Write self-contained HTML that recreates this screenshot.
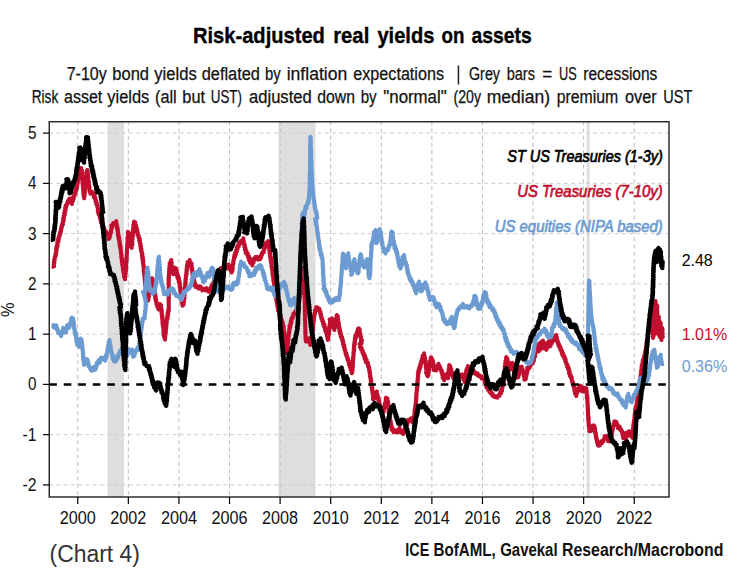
<!DOCTYPE html><html><head><meta charset="utf-8"><title>Risk-adjusted real yields on assets</title><style>html,body{margin:0;padding:0;background:#fff}body{width:744px;height:575px;position:relative;overflow:hidden;font-family:"Liberation Sans",sans-serif}</style></head><body><svg width="744" height="575" viewBox="0 0 744 575" style="position:absolute;left:0;top:0;font-family:'Liberation Sans',sans-serif">
<rect width="744" height="575" fill="#fff"/>
<rect x="107.5" y="121.75" width="16.5" height="375.25" fill="#dedede"/>
<rect x="278.5" y="121.75" width="37.0" height="375.25" fill="#dedede"/>
<rect x="586.7" y="121.75" width="2.8999999999999773" height="375.25" fill="#dedede"/>
<g stroke="#bcbcbc" stroke-width="1" stroke-dasharray="4.1 3.15" fill="none"><line x1="77.75" y1="121.15" x2="77.75" y2="497.0"/><line x1="128.34" y1="121.15" x2="128.34" y2="497.0"/><line x1="178.93" y1="121.15" x2="178.93" y2="497.0"/><line x1="229.52" y1="121.15" x2="229.52" y2="497.0"/><line x1="280.11" y1="121.15" x2="280.11" y2="497.0"/><line x1="330.70" y1="121.15" x2="330.70" y2="497.0"/><line x1="381.29" y1="121.15" x2="381.29" y2="497.0"/><line x1="431.88" y1="121.15" x2="431.88" y2="497.0"/><line x1="482.47" y1="121.15" x2="482.47" y2="497.0"/><line x1="533.06" y1="121.15" x2="533.06" y2="497.0"/><line x1="583.65" y1="121.15" x2="583.65" y2="497.0"/><line x1="634.24" y1="121.15" x2="634.24" y2="497.0"/></g>
<g stroke="#cdcdcd" stroke-width="1" stroke-dasharray="3.9 3.35" fill="none"><line x1="49.25" y1="484.92" x2="669.0" y2="484.92"/><line x1="49.25" y1="434.66" x2="669.0" y2="434.66"/><line x1="49.25" y1="334.14" x2="669.0" y2="334.14"/><line x1="49.25" y1="283.88" x2="669.0" y2="283.88"/><line x1="49.25" y1="233.62" x2="669.0" y2="233.62"/><line x1="49.25" y1="183.36" x2="669.0" y2="183.36"/><line x1="49.25" y1="133.10" x2="669.0" y2="133.10"/></g>
<clipPath id="c"><rect x="49.25" y="121.75" width="619.75" height="375.25"/></clipPath>
<g clip-path="url(#c)">
<polyline points="53.84,268.34 53.40,267.06 54.17,265.85 53.71,264.57 54.33,263.37 53.85,262.04 54.71,260.88 54.08,259.52 54.92,258.39 54.78,256.89 55.89,255.69 55.33,254.11 56.32,253.08 55.88,251.80 56.61,250.72 56.03,249.42 56.94,248.38 56.35,247.08 57.57,246.08 57.07,244.80 57.67,243.70 57.24,242.40 58.60,241.25 57.97,239.63 59.01,238.43 58.58,237.09 59.59,236.19 59.33,234.90 60.44,234.02 59.88,232.64 60.96,231.73 60.63,230.36 61.45,229.23 61.05,227.85 62.04,226.78 61.75,225.48 62.95,224.63 62.28,223.26 63.33,222.16 62.88,220.78 63.92,219.68 63.10,218.24 64.07,217.12 63.75,215.77 64.75,214.66 64.08,213.25 65.30,212.18 64.64,210.76 65.77,209.60 65.08,208.08 66.11,206.90 65.65,205.42 66.92,205.11 66.97,203.05 68.64,202.43 67.99,200.88 69.35,200.28 69.19,198.79 69.83,198.43 70.93,199.51 70.57,200.88 71.48,202.00 71.95,204.08 71.84,202.38 73.03,201.20 72.60,199.63 73.81,198.48 73.17,196.75 74.71,195.71 74.20,193.98 75.63,193.26 75.27,191.83 76.22,190.87 75.79,189.49 77.06,188.44 76.33,187.00 77.32,185.89 76.95,184.62 77.76,183.56 77.07,182.24 78.26,181.24 77.60,179.92 78.77,178.85 78.21,177.44 79.14,176.33 78.45,174.89 79.66,173.83 79.13,172.43 80.05,171.31 79.40,169.70 81.32,169.41 81.20,167.96 80.77,169.42 81.99,170.57 81.24,172.09 82.34,173.30 81.74,174.69 82.48,175.98 82.01,177.35 82.65,178.65 82.34,180.01 82.97,181.31 82.41,182.69 83.00,183.99 82.62,185.36 83.28,186.65 82.87,187.99 83.46,189.24 83.04,190.58 83.76,191.82 83.24,193.17 83.94,194.42 83.62,195.75 84.10,197.02 84.22,198.36 83.82,196.90 84.76,195.60 84.09,194.12 85.07,192.83 84.42,191.34 85.22,190.02 84.73,188.67 85.55,187.44 85.16,186.10 85.60,184.83 85.40,183.50 86.02,182.25 85.56,180.90 86.07,179.64 85.65,178.29 86.44,176.97 86.15,175.53 86.71,174.19 86.34,172.74 87.05,171.41 87.28,169.95 86.76,171.24 87.75,172.27 87.30,173.55 88.15,174.60 87.84,175.85 88.39,177.05 87.97,178.36 88.58,179.56 88.31,180.85 89.04,182.04 88.45,183.36 89.09,184.56 88.64,185.88 89.59,187.02 89.16,188.35 89.68,189.56 89.45,190.86 90.23,192.03 90.29,193.79 90.82,191.68 92.11,191.85 93.61,192.90 93.21,194.55 94.76,195.53 93.77,197.21 95.42,197.85 95.01,199.26 96.17,200.29 95.61,201.78 96.81,202.79 96.28,204.30 97.65,205.39 97.28,207.03 98.35,208.24 97.70,209.75 99.26,210.67 98.64,212.17 98.52,213.82 97.94,211.80 99.45,212.84 98.64,214.63 100.11,215.69 99.75,217.34 100.81,218.53 100.38,220.18 101.58,221.09 101.08,222.50 102.66,223.31 101.85,224.80 103.00,225.72 102.43,227.30 104.20,228.10 103.34,229.77 104.91,230.25 104.66,232.17 106.31,231.88 107.38,233.40 108.41,234.39 107.82,235.75 108.76,236.77 108.48,238.06 108.52,239.05 109.67,237.86 109.25,236.29 110.35,235.08 109.77,233.47 111.24,232.36 110.79,230.79 111.52,229.63 111.18,228.27 112.32,227.19 111.23,225.37 113.53,224.60 113.21,222.97 114.95,223.21 116.26,221.17 115.38,222.72 116.71,223.67 116.18,225.08 117.30,226.09 116.71,227.39 117.80,228.41 117.20,229.71 118.11,230.75 117.65,232.04 118.32,233.12 117.77,234.42 118.73,235.46 118.22,236.75 119.27,237.77 118.59,239.08 119.59,240.11 119.16,241.39 119.93,242.47 119.39,243.81 120.36,244.95 119.70,246.31 120.79,247.44 120.29,248.78 121.00,249.96 120.64,251.41 121.18,252.76 120.98,254.19 121.76,255.50 121.10,256.99 122.10,258.27 121.56,259.62 122.37,260.78 121.75,262.14 122.63,263.29 122.15,264.63 122.94,265.78 122.65,267.03 123.35,268.12 122.77,269.42 123.85,270.44 123.21,271.73 124.15,272.88 123.75,274.20 124.59,275.36 123.91,276.73 124.68,277.90 125.12,279.26 124.71,277.73 125.47,276.44 125.13,274.97 125.74,273.71 125.48,272.39 126.17,271.14 125.62,269.80 126.13,268.53 125.87,267.21 126.35,265.94 125.90,264.60 126.48,263.34 126.05,261.98 126.69,260.68 126.17,259.31 126.95,258.02 126.46,256.65 126.92,255.34 126.55,253.99 127.02,252.67 126.65,251.32 127.14,250.01 126.94,248.70 127.53,247.43 127.02,246.10 127.58,244.83 127.13,243.50 127.66,242.23 127.37,240.91 127.96,239.65 127.24,238.29 128.23,237.04 127.75,235.65 128.28,234.36 127.87,232.97 127.81,231.76 128.91,232.86 128.33,234.24 129.37,235.35 128.92,236.70 129.67,237.96 129.24,239.37 129.91,240.64 129.64,242.02 130.33,243.25 129.72,244.87 131.06,246.01 131.69,247.91 131.70,245.81 132.46,244.50 131.93,243.11 132.46,241.78 132.12,240.40 132.63,239.07 132.15,237.69 132.95,236.38 132.44,234.98 133.01,233.77 132.58,232.48 133.28,231.28 132.78,229.97 133.40,228.77 133.14,227.49 133.61,226.27 133.26,224.95 134.20,223.87 133.81,222.50 134.04,221.43 135.39,222.55 135.00,224.25 136.20,225.43 135.58,227.04 136.92,228.17 136.37,229.66 137.44,230.71 136.77,232.23 137.95,233.24 137.43,234.94 138.88,236.01 138.51,237.60 139.83,238.72 139.03,240.27 140.12,241.44 139.82,242.88 140.70,244.10 140.04,245.51 141.07,246.62 140.49,248.01 141.46,249.13 140.93,250.51 141.86,251.64 141.58,253.02 142.52,254.22 141.80,255.66 142.90,256.84 142.17,258.28 143.23,259.46 142.64,260.87 143.34,262.06 142.98,263.36 143.60,264.56 143.17,265.87 144.02,267.04 143.57,268.35 144.11,269.56 143.62,270.88 144.59,272.04 144.02,273.36 144.76,274.59 144.18,275.94 144.97,277.17 144.55,278.51 145.19,279.75 144.84,281.08 145.34,282.33 144.97,283.67 145.70,284.90 145.24,286.24 145.85,287.48 145.56,288.89 146.21,290.18 145.97,291.59 146.58,292.88 146.08,294.32 146.95,295.59 146.55,297.01 147.58,298.10 147.11,299.74 147.82,300.80 148.55,299.55 148.06,298.11 148.99,296.89 148.48,295.45 149.34,294.20 148.77,292.78 149.47,291.48 149.09,290.08 149.78,288.78 149.41,287.38 150.02,286.06 149.57,284.66 150.58,283.47 149.75,281.80 150.99,280.64 150.51,278.39 152.11,278.37 152.81,279.53 152.44,280.91 153.61,281.97 153.09,283.37 153.98,284.42 153.24,285.75 154.23,286.78 153.70,288.08 154.77,289.11 154.21,290.46 155.05,291.62 154.43,292.97 155.35,294.12 154.72,295.48 155.80,296.60 155.04,298.08 156.10,299.28 155.69,300.70 156.39,301.96 156.33,303.92 157.39,303.26 156.75,304.58 157.61,305.63 157.18,306.91 158.24,307.93 158.51,309.48 158.47,307.29 159.80,306.53 159.25,305.02 160.12,304.21 161.09,305.32 160.30,306.76 161.41,307.85 160.94,309.22 161.96,310.33 161.24,311.71 162.00,312.98 161.56,314.37 162.46,315.63 161.86,317.04 162.69,318.30 162.19,319.70 163.02,320.96 162.30,322.38 163.13,323.64 162.62,325.04 163.40,326.22 163.05,327.52 163.62,328.73 163.31,330.02 164.04,331.21 163.32,332.54 164.06,333.73 163.60,335.07 164.54,336.11 164.18,337.38 164.92,338.45 165.06,339.69 164.59,338.30 165.27,337.02 165.04,335.65 165.67,334.37 165.37,332.99 166.00,331.70 165.47,330.39 166.31,329.21 165.83,327.90 166.41,326.69 165.99,325.39 166.65,324.19 166.22,322.89 166.93,321.71 166.47,320.28 167.51,319.07 166.83,317.60 167.97,316.41 167.29,314.93 168.26,313.73 167.65,312.25 168.82,311.08 168.21,309.60 169.01,308.33 168.66,307.04 168.94,305.75 168.54,304.47 168.93,303.18 168.54,301.89 169.00,300.60 168.48,299.32 169.03,298.03 168.46,296.74 168.89,295.45 168.54,294.17 168.97,292.88 168.57,291.59 168.94,290.30 168.54,289.02 168.93,287.73 168.60,286.44 168.90,285.15 168.49,283.86 168.85,282.57 168.49,281.29 169.01,280.02 168.44,278.73 169.10,277.52 168.61,276.23 169.23,275.02 168.89,273.74 169.30,272.51 169.04,271.24 169.64,270.02 169.06,268.58 169.92,267.25 169.38,265.81 170.19,264.48 169.62,263.04 170.80,262.15 171.29,259.97 170.78,261.44 171.80,262.72 171.24,264.20 171.88,265.53 171.48,266.98 172.37,268.27 171.89,269.55 172.59,270.63 172.28,271.89 173.14,272.94 173.38,274.26 172.74,272.79 174.03,271.77 173.37,270.30 175.03,269.77 173.98,267.80 174.87,267.64 176.23,268.44 175.47,269.88 176.80,270.72 176.16,272.19 177.29,273.24 176.74,274.69 178.06,275.63 177.19,277.19 178.91,277.84 178.16,279.27 179.40,280.32 178.67,281.77 179.84,282.84 179.39,284.21 180.09,285.39 179.61,286.72 180.62,287.86 179.99,289.22 180.72,290.39 180.25,291.72 181.15,293.02 180.70,294.48 181.35,295.81 181.02,297.26 181.89,298.56 181.29,300.09 182.29,301.09 181.73,302.44 182.69,303.45 182.32,304.76 182.48,305.74 183.63,304.74 183.07,303.44 184.03,302.41 183.40,301.10 184.20,300.02 183.91,298.69 184.61,297.44 184.11,296.09 184.61,294.83 184.18,293.48 184.96,292.24 184.53,290.90 185.18,289.65 184.65,288.30 185.30,287.05 184.90,285.71 185.68,284.47 185.07,283.12 185.78,281.87 185.35,280.53 185.99,279.28 185.59,277.94 186.22,276.70 185.76,275.23 186.76,273.94 186.24,272.47 186.90,271.14 186.38,269.67 187.43,268.40 186.72,267.08 187.60,266.03 187.10,264.75 188.20,263.74 187.49,262.14 189.17,262.07 189.76,260.01 189.56,262.13 191.56,263.30 191.14,264.71 191.88,265.97 191.37,267.39 192.31,268.63 191.72,270.06 192.73,271.29 192.15,272.71 192.91,273.97 192.51,275.38 193.25,276.62 192.98,277.89 193.93,278.91 193.37,280.24 194.42,281.24 193.80,282.63 195.15,283.40 194.35,284.93 195.84,285.42 195.61,286.98 197.06,286.88 198.58,288.64 198.31,286.89 198.89,286.18 200.36,286.38 200.03,287.84 202.13,288.32 202.31,290.50 203.13,288.77 204.39,289.09 206.50,288.18 205.84,290.50 208.14,289.86 208.76,291.87 208.50,289.83 210.36,290.18 209.88,288.55 211.46,287.95 211.16,286.41 212.79,285.84 212.27,284.19 213.72,283.52 213.46,282.01 215.19,281.48 214.45,279.72 216.17,279.20 215.70,277.57 217.40,277.11 216.83,275.26 218.66,274.84 217.83,272.83 220.23,272.75 219.66,270.91 221.48,270.65 220.82,268.07 222.89,268.13 223.59,266.41 224.44,267.34 226.73,266.63 227.47,268.52 226.73,266.93 228.54,266.37 228.61,264.54 229.06,265.99 230.24,267.02 230.05,268.41 231.17,269.45 230.65,271.04 231.73,272.47 232.34,271.21 231.99,269.85 232.83,268.61 232.15,267.21 232.88,265.97 232.68,264.62 233.51,263.43 233.02,262.12 233.77,261.06 233.46,259.78 234.17,258.71 233.90,257.41 235.12,256.58 234.33,255.07 235.89,254.35 235.14,252.58 236.77,251.57 236.25,249.86 237.65,248.78 236.87,247.00 238.72,246.41 238.19,244.62 239.69,244.46 239.10,242.62 241.30,242.84 240.84,240.99 242.66,240.40 243.41,238.25 242.86,239.66 243.72,240.79 243.42,242.15 244.35,243.26 243.98,244.63 245.03,245.72 244.39,247.15 245.55,248.16 244.87,249.90 246.47,250.92 245.62,252.88 247.72,253.36 247.27,255.16 248.88,255.81 248.21,257.36 249.67,258.12 248.81,259.92 250.52,260.91 250.00,262.68 251.35,263.56 252.43,265.40 251.77,263.45 253.46,262.68 252.68,261.08 254.18,260.40 253.68,258.65 255.60,258.81 255.39,257.06 256.53,256.86 258.07,257.53 257.17,259.18 258.10,259.63 260.20,259.38 259.80,257.93 261.23,257.21 260.65,255.64 261.99,254.75 261.81,253.05 263.71,252.46 263.28,250.71 264.42,249.54 263.95,247.86 265.68,246.94 264.74,245.28 266.31,244.61 265.75,242.86 267.48,242.88 268.22,241.01 268.41,242.53 269.10,243.86 268.60,245.32 269.62,246.61 268.99,248.09 269.70,249.42 269.29,250.88 270.15,252.04 269.52,253.39 270.57,254.53 269.90,255.89 270.89,257.03 270.33,258.38 271.29,259.52 270.57,260.89 271.43,262.05 271.12,263.36 271.79,264.54 271.34,265.87 272.04,267.05 271.72,268.37 272.52,269.53 272.15,270.85 272.93,272.02 272.29,273.38 273.11,274.54 272.74,275.87 273.45,277.04 273.06,278.37 273.91,279.53 273.34,280.87 274.17,282.04 273.79,283.36 274.63,284.52 274.06,285.87 274.78,287.04 274.47,288.36 275.37,289.59 274.73,291.05 275.75,292.26 274.99,293.74 276.20,294.91 275.40,296.25 276.58,297.24 275.76,298.59 276.94,299.58 276.42,300.88 277.31,302.00 276.76,303.41 277.99,304.47 277.16,305.94 278.41,306.96 277.71,308.40 278.81,309.46 278.17,310.89 279.55,311.82 278.96,313.35 280.27,314.24 279.49,315.84 281.10,316.63 280.69,318.09 281.68,319.25 281.23,320.82 282.63,321.86 281.90,323.51 283.23,324.58 283.01,326.04 283.84,327.23 283.43,328.57 283.96,329.79 283.59,331.13 284.32,332.33 284.03,333.66 284.63,334.88 284.18,336.23 285.02,337.42 284.66,338.75 285.19,339.97 284.73,341.36 285.71,342.55 285.29,343.93 286.12,345.14 285.67,346.52 286.30,347.76 285.76,349.16 286.75,350.35 286.27,351.73 286.27,352.95 287.19,351.70 286.58,350.29 287.58,349.05 287.01,347.63 287.81,346.37 287.28,344.97 288.18,343.71 287.50,342.29 288.41,341.04 287.78,339.62 288.77,338.38 288.23,336.97 288.83,335.69 288.38,334.29 289.34,333.07 288.77,331.54 289.68,330.25 289.24,328.75 290.26,327.48 289.46,325.87 290.74,324.94 290.33,323.61 291.41,322.64 290.73,321.24 291.71,320.24 291.28,318.83 292.85,317.91 292.49,316.22 293.64,315.14 293.43,313.48 295.17,312.65 295.73,310.58 294.70,312.49 296.75,312.65 297.11,314.08 296.55,312.63 297.61,311.51 297.07,310.06 298.23,308.96 297.43,307.46 298.59,306.36 298.11,304.94 298.97,303.79 298.60,302.46 299.41,301.30 298.88,299.94 299.80,298.80 299.12,297.42 300.04,296.28 299.61,294.94 300.69,293.83 299.95,292.44 300.93,291.30 300.45,289.96 301.25,288.80 300.64,287.43 301.79,286.32 301.14,284.96 302.08,283.75 301.36,282.35 302.37,281.15 301.82,279.77 302.55,278.53 302.00,277.15 302.82,275.93 302.31,274.56 303.16,273.34 302.68,271.94 303.64,270.74 303.29,269.28 303.59,268.01 304.08,269.32 303.78,270.67 304.13,271.99 303.84,273.34 304.40,274.65 303.87,276.01 304.38,277.33 303.89,278.68 304.47,280.00 304.10,281.34 304.63,282.66 304.12,284.01 304.61,285.33 304.15,286.67 304.68,288.00 304.22,289.34 304.73,290.66 304.22,292.01 304.83,293.33 304.46,294.67 304.76,296.00 304.33,297.34 304.84,298.66 304.58,300.00 304.90,301.33 304.54,302.67 305.10,303.99 304.61,305.34 305.10,306.66 304.57,308.01 305.02,309.33 304.67,310.67 305.27,311.99 304.73,313.34 305.22,314.66 304.83,316.00 305.36,317.33 304.75,318.67 305.24,320.00 304.89,321.29 305.38,322.57 304.94,323.86 305.39,325.14 305.10,326.43 305.49,327.71 305.13,329.01 305.68,330.28 305.11,331.58 305.75,332.85 305.22,334.15 305.67,335.42 305.36,336.72 305.96,337.96 305.47,339.03 306.41,339.42 305.87,341.63 307.14,341.49 308.82,340.94 308.26,339.27 308.79,338.42 310.09,339.52 309.53,341.07 310.60,342.22 310.11,343.76 310.39,344.94 311.47,343.73 310.91,342.30 311.65,341.04 311.06,339.61 312.00,338.38 311.60,336.97 312.40,335.72 311.90,334.30 312.65,333.04 312.34,331.65 313.07,330.42 312.42,329.04 313.31,327.82 312.59,326.44 313.38,325.21 312.97,323.86 313.69,322.62 313.17,321.26 314.14,320.07 313.63,318.57 314.39,317.27 313.91,315.77 314.88,314.50 314.55,313.02 315.40,311.87 314.95,310.26 316.74,309.76 316.15,307.28 317.79,307.72 319.47,308.66 319.10,310.42 320.39,311.57 320.00,313.09 321.17,314.21 320.67,315.75 321.64,316.92 321.25,318.47 322.55,319.42 322.09,320.97 323.45,321.90 322.99,323.44 324.41,324.36 323.59,326.02 325.08,326.91 324.72,328.42 325.82,329.45 325.26,331.02 326.80,331.90 326.17,333.43 327.47,334.56 326.89,336.06 327.85,337.26 327.41,338.73 327.80,339.98 328.35,338.77 328.05,337.47 328.63,336.27 328.26,334.96 329.11,333.79 328.55,332.46 329.39,331.29 328.94,329.97 329.54,328.78 329.13,327.46 330.03,326.30 329.46,324.97 330.06,323.77 329.87,322.48 330.44,321.28 329.63,319.44 331.38,319.47 331.95,318.27 331.48,319.75 332.77,320.89 332.14,322.40 333.16,323.58 332.58,325.10 333.52,326.20 333.24,327.58 334.15,328.69 334.44,330.05 333.93,328.68 335.00,327.57 334.59,326.22 335.21,325.04 334.77,323.68 335.64,322.54 335.33,321.20 336.17,320.09 335.92,318.68 336.74,317.56 336.55,316.17 336.84,315.06 337.92,316.24 337.22,317.74 338.14,318.95 337.67,320.41 338.61,321.63 338.20,323.12 339.07,324.40 338.50,325.92 339.53,327.17 338.99,328.68 340.14,329.89 339.41,331.38 340.70,332.39 339.98,333.88 341.27,334.85 340.68,336.44 342.21,337.32 341.59,338.92 342.95,339.89 342.39,341.44 343.55,342.57 342.91,344.15 344.32,345.22 343.73,346.78 344.74,347.94 344.41,349.44 345.46,350.59 345.19,352.07 346.28,353.18 345.74,354.75 347.03,355.71 346.71,357.21 348.00,358.16 347.45,359.74 348.77,360.68 348.45,362.18 349.59,363.19 349.03,364.76 350.50,365.66 349.91,367.25 351.38,368.20 350.62,369.70 351.90,370.72 351.48,372.13 351.77,373.31 352.45,372.06 352.03,370.72 352.73,369.48 352.26,368.13 352.94,366.89 352.46,365.54 353.16,364.29 352.51,362.93 353.23,361.69 352.72,360.39 353.38,359.18 352.92,357.89 353.64,356.69 353.23,355.40 353.76,354.18 353.38,352.90 354.00,351.69 353.56,350.39 354.33,349.20 353.77,347.90 354.33,346.69 353.87,345.37 354.90,344.22 354.25,342.88 355.03,341.70 354.56,340.38 355.47,339.22 354.88,337.89 356.13,337.31 355.31,335.28 357.07,335.11 356.38,333.59 357.73,332.61 357.19,331.12 358.35,330.25 357.98,328.74 358.97,328.37 359.84,329.59 359.45,331.03 360.07,332.30 359.87,333.71 360.58,334.95 360.21,336.41 361.20,337.60 360.83,339.06 361.97,340.22 360.88,341.28 361.65,343.35 359.60,344.02 360.40,345.37 359.87,347.23 361.67,347.93 361.14,349.78 362.81,350.54 362.36,352.37 363.81,353.29 363.26,354.75 364.93,355.47 364.24,356.98 365.68,357.77 364.91,359.38 366.69,360.09 365.83,362.11 367.92,362.76 367.42,364.20 368.53,365.10 368.04,366.55 369.23,367.42 368.79,368.76 369.74,370.02 369.21,371.49 370.18,372.75 369.66,374.22 370.38,375.51 369.99,376.96 371.02,378.21 370.52,379.58 371.28,380.77 370.76,382.14 371.53,383.34 371.03,384.70 372.07,385.86 371.58,387.22 372.38,388.41 371.79,389.80 372.78,391.04 372.30,392.52 373.18,393.78 372.76,395.25 373.49,396.54 372.90,398.03 373.06,399.12 374.71,398.26 374.05,396.60 375.45,395.66 374.93,394.04 376.49,393.16 376.84,391.53 376.31,392.90 377.33,393.86 376.77,395.24 378.00,396.14 377.22,397.57 378.73,398.40 378.16,399.78 379.14,400.75 378.79,402.07 379.59,403.10 379.39,404.35 380.19,405.38 379.66,406.71 380.92,407.63 379.98,409.26 381.80,409.94 381.60,411.63 381.92,412.48 383.64,411.78 382.70,410.19 384.03,409.36 383.72,407.98 384.97,407.07 384.31,405.69 385.56,404.69 384.86,403.31 385.84,402.26 385.53,400.96 386.47,399.90 385.65,398.49 385.76,397.65 387.47,398.48 386.92,400.10 388.01,401.21 387.54,402.54 388.47,403.74 387.74,405.10 388.50,406.31 388.11,407.64 388.86,408.85 388.41,410.19 389.19,411.40 388.51,412.75 389.43,413.95 388.84,415.30 389.78,416.45 389.12,417.82 390.20,418.85 389.74,420.19 390.76,421.23 390.27,422.57 391.19,423.63 390.65,424.98 391.74,425.94 391.06,427.44 392.47,428.25 391.67,429.79 393.13,430.58 393.45,432.15 393.28,430.07 394.55,430.28 396.19,430.57 395.77,432.23 396.41,432.58 398.22,431.92 397.31,430.17 398.84,429.39 399.48,427.73 398.99,429.57 400.73,430.29 400.27,432.38 402.15,432.42 403.23,434.03 402.85,432.24 404.40,431.42 404.00,429.73 405.43,428.93 405.07,427.54 406.29,426.67 405.51,425.13 407.26,424.56 406.54,422.60 408.52,422.00 407.98,419.89 409.79,419.79 410.81,418.24 410.52,419.98 412.09,420.78 412.75,422.44 412.34,421.02 413.36,420.09 413.06,418.71 414.16,417.80 413.80,416.49 414.68,415.24 414.29,413.84 414.95,412.56 414.39,411.14 415.30,409.88 414.79,408.47 415.55,407.20 415.20,405.80 415.93,404.53 415.56,403.14 416.21,401.91 415.79,400.58 416.42,399.35 415.92,398.02 416.62,396.80 416.09,395.47 416.70,394.24 416.33,392.92 416.90,391.68 416.63,390.37 417.21,389.14 416.84,387.82 417.51,386.59 416.87,385.25 417.65,384.03 417.14,382.70 417.84,381.48 417.40,380.15 418.10,378.93 417.67,377.61 418.25,376.37 417.81,375.05 418.50,373.82 417.99,372.42 419.07,371.48 418.45,370.08 419.80,369.21 419.15,367.81 420.54,366.99 419.95,365.52 420.98,364.59 420.45,363.13 421.87,362.33 421.30,360.91 422.78,359.93 422.01,358.38 423.07,357.29 422.56,355.81 423.93,354.80 424.06,353.34 423.75,354.73 424.67,355.87 424.29,357.27 425.33,358.39 424.58,359.87 425.71,361.00 425.17,362.36 426.04,363.55 425.54,364.90 426.27,366.11 425.81,367.46 426.36,368.68 426.14,370.00 426.71,371.23 426.02,372.75 427.52,373.65 427.05,375.25 427.62,376.31 428.40,375.12 427.95,373.76 428.87,372.58 428.20,371.20 429.16,370.03 428.56,368.65 429.65,367.49 428.93,366.10 429.90,364.98 429.50,363.52 430.41,362.39 429.90,360.91 431.06,359.84 430.65,358.38 431.00,357.33 431.97,358.30 431.71,359.60 432.91,360.51 432.19,361.93 433.46,362.87 432.67,364.33 433.62,365.47 433.19,366.86 434.05,368.03 433.73,369.40 433.75,370.08 436.07,370.48 435.63,368.47 437.05,367.65 436.63,366.10 438.18,365.33 438.49,363.77 438.15,365.30 439.79,366.03 438.79,367.81 440.75,368.34 440.34,370.14 442.10,370.86 441.53,372.63 442.82,373.67 442.29,375.16 443.18,376.29 442.63,377.79 443.88,378.83 444.13,380.28 443.76,378.88 445.34,378.13 444.37,376.53 445.82,375.73 446.61,374.02 445.68,376.08 447.81,376.61 448.07,378.32 447.58,376.89 448.54,375.66 447.94,374.21 448.93,372.98 448.29,371.52 449.31,370.30 448.70,368.85 449.53,367.60 449.04,366.17 449.25,364.97 450.20,366.08 449.78,367.55 451.12,368.56 450.54,370.06 451.77,371.11 450.82,372.83 452.69,373.38 452.01,375.04 453.80,375.63 452.81,377.42 453.66,378.23 454.36,376.94 453.99,375.52 454.33,374.60 456.07,373.64 456.31,375.63 458.25,375.61 459.08,377.83 459.25,375.77 461.24,376.73 461.01,374.59 462.05,374.32 463.42,375.33 462.76,376.85 463.91,377.92 463.25,379.44 464.34,380.52 464.70,381.90 464.36,380.59 465.20,379.51 464.63,378.15 465.66,377.12 465.40,375.82 466.20,374.74 465.73,373.40 466.93,372.43 466.02,370.96 467.56,370.14 466.79,368.71 467.83,367.75 467.89,366.07 468.54,367.14 470.86,366.80 470.42,368.86 472.64,368.68 471.82,370.90 473.92,370.78 473.51,373.03 475.23,372.52 475.62,374.02 477.52,373.24 477.49,375.36 479.06,375.07 479.34,376.60 481.53,376.31 481.67,378.51 483.65,378.52 484.16,380.07 485.40,380.93 484.71,382.43 486.08,383.25 485.41,384.75 487.28,385.27 486.34,387.33 488.06,388.07 487.89,389.98 490.13,389.66 489.45,391.97 491.32,392.11 490.97,393.72 492.69,393.79 492.44,395.95 494.30,395.80 494.76,397.28 495.57,396.26 497.47,397.67 497.61,395.88 499.51,395.87 499.24,394.05 501.04,393.38 500.32,391.71 502.04,391.01 501.46,389.43 502.35,388.30 502.12,386.89 503.18,385.79 502.76,384.34 503.68,383.21 503.47,381.83 503.95,380.59 503.48,379.26 504.25,378.04 503.70,376.71 504.58,375.50 504.13,374.18 504.86,372.95 504.41,371.63 505.09,370.40 504.63,369.08 505.12,367.83 504.64,366.48 505.41,365.20 505.01,363.74 505.88,362.48 505.43,361.00 506.30,359.74 505.96,358.29 506.22,357.06 507.19,358.04 506.72,359.39 507.84,360.32 507.37,361.68 508.51,362.63 508.05,364.05 508.85,365.22 508.38,366.64 509.40,367.76 508.80,369.20 509.19,370.26 510.34,369.34 509.98,368.01 510.76,366.99 510.56,365.71 511.85,365.20 511.17,363.09 512.12,362.83 513.29,363.92 512.72,365.36 513.76,366.48 513.46,367.87 514.30,369.02 513.68,370.51 515.07,371.37 514.18,372.83 515.70,373.66 514.96,375.09 516.39,375.58 515.86,377.57 516.75,377.81 518.38,376.99 517.72,375.25 519.31,374.30 518.68,372.85 519.67,371.72 519.05,370.27 520.26,369.18 519.67,367.74 519.65,367.07 521.90,366.85 521.27,368.69 522.76,369.57 522.44,371.18 523.80,372.20 523.42,373.60 524.26,374.76 523.61,376.22 524.69,377.33 524.29,378.74 524.39,379.80 525.83,378.96 525.00,377.51 526.32,376.63 525.75,375.24 526.85,374.31 526.25,372.92 527.43,372.01 526.80,370.61 527.90,369.67 527.19,367.83 529.52,368.12 529.04,366.07 530.77,365.89 530.94,364.39 532.67,363.66 531.97,361.71 533.92,360.96 533.32,359.57 534.20,358.57 533.97,357.28 535.20,356.38 534.36,354.93 535.45,353.99 534.96,352.62 536.42,351.79 535.61,350.34 535.93,349.70 538.08,349.54 538.55,351.48 538.08,349.81 539.61,348.95 539.02,347.29 540.23,346.39 539.69,345.01 540.73,344.06 540.28,342.71 541.43,342.37 542.98,340.56 542.26,342.11 543.57,343.01 543.33,344.40 544.79,345.19 543.98,347.00 545.65,347.81 546.29,349.89 545.87,347.98 547.68,347.86 547.42,346.09 549.02,345.87 548.76,343.69 551.26,343.93 550.42,341.92 552.13,341.17 553.05,340.53 551.02,340.00 550.85,341.96 548.75,341.34 548.52,343.24 546.78,343.10 546.66,345.13 544.44,344.35 544.53,346.67 542.59,346.26 542.47,348.30 540.36,347.66 540.22,349.67 538.27,349.25 538.11,351.22 536.42,351.15 535.22,352.15 536.29,351.23 535.90,349.82 537.25,349.00 536.49,347.47 538.24,347.25 537.77,344.87 540.35,345.24 539.60,343.35 541.26,343.08 541.75,341.61 541.51,343.08 542.85,343.94 542.26,345.56 543.64,346.17 543.42,348.31 544.35,347.63 546.48,347.83 546.91,346.16 548.26,346.48 548.57,344.70 550.46,346.08 550.60,344.46 551.87,343.50 551.61,341.78 553.24,340.93 552.97,339.52 553.86,338.49 553.64,337.11 554.68,336.51 556.25,334.97 555.75,336.33 556.84,337.27 556.49,338.59 557.44,339.57 556.78,341.01 558.17,341.88 557.70,343.35 559.03,344.25 558.47,345.85 560.00,346.26 559.67,347.67 560.85,348.31 560.41,349.97 562.17,350.74 561.59,352.51 562.94,353.02 562.24,354.63 563.85,355.06 563.33,356.54 564.97,357.34 564.39,358.84 565.78,359.66 565.25,361.36 566.40,362.38 566.20,363.94 567.57,364.87 567.07,366.54 568.56,367.48 567.89,368.89 569.27,369.75 568.79,371.11 569.69,372.10 569.03,373.59 570.52,374.48 569.95,376.18 571.74,377.04 571.22,378.61 572.15,379.85 571.77,381.43 573.01,382.41 572.61,383.94 573.66,384.98 573.44,386.45 574.50,387.53 574.14,388.84 575.08,389.89 574.42,391.26 575.63,392.26 574.99,393.63 576.18,394.63 576.34,396.08 575.93,394.38 577.25,393.27 576.71,391.52 578.52,390.60 577.64,388.73 579.52,388.14 579.26,386.22 580.18,385.61 581.72,386.61 580.89,388.56 582.81,389.14 582.11,391.41 583.18,391.55 584.82,390.53 584.26,388.85 584.50,387.93 586.22,388.31 586.06,389.69 586.75,390.94 586.43,392.29 586.91,393.56 586.65,394.90 587.30,396.15 586.71,397.53 587.61,398.76 587.21,400.11 587.68,401.37 587.23,402.68 587.73,403.95 587.49,405.25 587.98,406.51 587.58,407.82 588.11,409.08 587.72,410.39 588.29,411.64 587.81,412.96 588.32,414.22 587.88,415.53 588.60,416.77 587.92,418.09 588.80,419.27 588.19,420.59 588.80,421.80 588.54,423.08 589.13,424.29 588.53,425.61 589.39,426.80 588.96,428.09 589.80,428.89 589.18,431.10 590.40,431.20 592.20,430.30 591.34,428.35 593.39,427.79 592.63,425.71 593.64,425.22 594.58,426.29 594.25,427.58 595.21,428.64 594.69,429.96 595.39,431.06 594.91,432.38 596.08,433.39 595.48,434.75 596.29,435.83 595.72,437.18 596.80,438.21 596.36,439.53 597.28,440.59 596.89,441.97 598.49,442.95 597.68,444.89 598.53,445.76 600.08,445.29 600.12,443.61 601.92,443.34 601.33,441.15 603.45,441.14 603.48,439.61 604.86,438.54 604.45,436.77 604.66,436.29 607.03,436.11 606.48,437.97 608.31,438.85 607.83,440.66 608.02,441.16 610.40,441.35 610.17,439.68 611.19,438.59 610.72,437.19 611.66,436.08 611.32,434.71 612.08,433.56 611.57,432.15 612.55,431.05 612.27,429.69 613.06,428.54 612.65,427.12 613.73,425.93 613.49,424.33 614.98,423.46 614.23,421.60 614.85,421.26 616.29,421.90 615.80,423.30 617.22,423.89 616.87,425.42 618.55,425.86 617.91,428.15 619.81,426.96 619.30,428.74 621.02,429.16 620.78,430.62 622.25,431.30 621.91,432.73 622.74,433.85 622.44,435.27 623.62,436.30 623.08,438.01 624.69,438.42 625.52,439.86 624.95,438.36 626.29,437.38 625.51,435.83 626.98,434.88 625.96,432.80 628.34,433.00 629.01,431.20 628.58,433.00 629.92,434.07 629.80,435.88 631.73,436.05 632.30,437.75 631.86,436.26 632.49,434.93 632.18,433.46 632.95,432.16 632.43,430.65 633.33,429.36 632.99,427.99 633.72,426.76 633.11,425.36 633.97,424.14 633.52,422.76 634.21,421.52 633.90,420.16 634.80,418.94 634.28,417.56 634.93,416.31 634.46,414.93 635.31,413.71 634.79,412.32 635.64,411.10 635.07,409.71 635.98,408.56 635.62,406.94 636.85,405.79 636.51,404.24 637.37,403.07 636.74,401.71 637.65,400.56 637.21,399.23 638.12,398.07 637.38,396.70 638.27,395.54 637.79,394.20 638.60,393.04 638.09,391.68 638.92,390.48 638.58,389.08 639.52,387.90 638.94,386.46 640.06,385.30 639.32,383.85 640.35,382.67 639.88,381.27 640.51,380.00 640.17,378.62 640.97,377.36 640.41,375.95 641.16,374.69 640.76,373.30 641.43,372.03 641.03,370.64 641.96,369.40 641.42,367.99 642.31,366.79 641.66,365.36 642.67,364.26 642.38,362.90 643.34,361.79 642.66,360.26 644.02,359.19 643.73,357.46 645.24,356.33 644.47,354.93 645.53,353.81 644.85,352.43 645.78,351.29 645.39,349.95 646.11,348.78 645.86,347.46 646.78,346.32 646.30,344.97 647.08,343.81 646.53,342.45 647.57,341.33 646.74,339.92 647.66,338.78 647.36,337.46 648.32,336.33 647.67,334.93 648.52,333.89 647.95,332.55 649.19,331.59 648.68,330.26 649.67,329.26 649.10,327.90 650.21,326.90 649.65,325.49 650.69,324.47 650.23,323.08 650.18,322.41 652.12,322.69 651.27,324.36 652.71,324.99 652.41,326.31 652.80,327.59 652.36,328.92 652.99,330.19 652.67,331.51 653.28,332.78 652.74,334.12 653.43,335.38 652.97,336.72 653.01,338.00 653.53,336.71 653.05,335.40 653.49,334.11 653.12,332.81 653.55,331.52 653.24,330.22 653.66,328.93 653.33,327.63 653.71,326.34 653.23,325.03 653.67,323.74 653.41,322.44 653.91,321.15 653.40,319.85 653.83,318.56 653.35,317.25 653.96,315.97 653.55,314.66 653.96,313.37 653.59,312.07 654.04,310.78 653.56,309.48 654.09,308.19 653.71,306.89 654.16,305.60 653.72,304.29 653.60,303.01 654.15,304.29 653.65,305.59 654.14,306.87 653.90,308.17 654.29,309.45 653.78,310.76 654.35,312.04 653.94,313.34 654.35,314.62 654.00,315.92 654.48,317.20 653.99,318.51 654.61,319.78 654.14,321.09 654.55,322.37 654.28,323.67 654.80,324.95 654.25,326.26 654.70,327.54 654.27,328.84 654.77,330.12 654.42,331.42 654.98,332.70 654.84,334.00 654.59,332.68 654.88,331.36 654.64,330.04 655.01,328.72 654.66,327.40 655.04,326.08 654.78,324.76 655.14,323.44 654.74,322.12 655.25,320.81 654.83,319.48 655.28,318.17 654.88,316.84 655.37,315.53 654.97,314.20 655.37,312.88 654.96,311.56 655.42,310.24 655.00,308.92 655.49,307.60 655.10,306.28 655.61,304.97 655.02,303.63 655.61,302.33 655.66,300.99 655.16,302.31 655.67,303.60 655.27,304.92 655.78,306.21 655.37,307.53 655.84,308.82 655.43,310.14 655.88,311.43 655.58,312.74 655.96,314.04 655.58,315.36 656.04,316.65 655.61,317.97 656.27,319.25 655.70,320.57 656.22,321.86 655.73,323.18 656.30,324.47 655.94,325.79 656.44,327.08 655.95,328.40 656.47,329.69 656.59,331.01 656.03,329.69 656.55,328.40 656.24,327.10 656.65,325.81 656.20,324.49 656.78,323.21 656.39,321.90 656.78,320.61 656.30,319.29 656.98,318.01 656.43,316.69 657.01,315.41 656.45,314.09 656.96,312.80 656.69,311.50 657.11,310.21 656.69,308.89 657.20,307.61 656.78,306.30 656.79,305.01 657.33,306.31 656.93,307.64 657.32,308.95 656.99,310.28 657.42,311.58 656.94,312.92 657.59,314.22 657.01,315.55 657.48,316.86 657.15,318.19 657.64,319.49 657.18,320.83 657.75,322.13 657.18,323.46 657.87,324.76 657.42,326.10 657.77,327.40 657.32,328.74 657.85,330.04 657.39,331.37 657.91,332.68 658.07,334.01 657.70,332.68 658.08,331.39 657.78,330.07 658.36,328.78 657.81,327.45 658.37,326.16 658.07,324.84 658.51,323.55 658.18,322.22 658.60,320.93 658.23,319.60 658.78,318.32 658.94,316.99 658.51,318.34 658.96,319.66 658.50,321.01 658.97,322.33 658.66,323.68 659.08,324.99 658.64,326.35 659.23,327.66 658.94,329.01 659.37,330.32 658.94,331.68 659.57,332.99 659.00,334.35 659.52,335.66 659.77,337.02 659.34,335.74 659.88,334.52 659.50,333.24 660.08,332.02 659.63,330.74 660.24,329.52 659.64,328.23 660.40,327.02 659.98,325.74 660.47,324.52 660.15,323.24 660.10,322.02 660.83,323.27 660.27,324.58 660.88,325.84 660.37,327.16 660.89,328.42 660.57,329.73 661.06,330.99 660.60,332.30 661.21,333.56 660.82,334.87 661.37,336.13 660.99,337.44 661.38,338.71 661.51,340.02 661.25,338.66 661.82,337.36 661.34,335.98 662.01,334.69 661.51,333.31 662.06,332.01 661.64,330.64 662.46,329.36 662.33,327.99 662.03,329.39 662.64,330.74 662.16,332.14 662.78,333.48 662.22,334.89 662.86,336.24 662.29,337.64 662.70,339.00" fill="none" stroke="#c1102f" stroke-width="4.0" stroke-linejoin="round" stroke-linecap="butt"/>
<polyline points="51.67,325.15 53.91,325.19 53.32,326.93 54.35,327.85 55.87,327.24 56.38,325.41 56.09,327.73 57.58,328.59 57.12,330.22 58.72,331.03 58.05,332.87 60.06,333.94 61.21,336.15 61.22,333.99 62.78,333.16 62.08,331.53 63.58,330.42 62.92,328.79 63.12,327.83 65.01,329.07 64.76,330.35 65.58,331.32 66.06,332.59 65.67,331.03 66.69,329.80 66.06,328.15 67.46,327.36 66.87,325.97 67.30,325.15 68.44,326.14 69.15,327.79 69.38,325.74 70.45,324.85 69.68,323.41 71.19,322.66 70.70,321.30 71.95,320.46 70.97,318.82 72.05,317.59 73.29,318.79 72.59,320.37 73.74,321.61 73.22,322.88 74.14,323.93 73.37,325.24 74.22,326.30 73.74,327.57 74.79,328.68 74.26,330.05 75.14,331.19 74.56,332.63 75.96,333.42 75.22,334.85 76.43,335.77 75.92,337.21 76.85,338.43 76.15,339.90 77.12,341.12 76.53,342.64 77.95,343.42 77.13,344.88 78.49,345.24 79.29,346.74 79.00,345.20 80.14,344.00 79.73,342.43 80.89,341.24 80.36,339.65 80.49,338.43 81.58,339.66 81.02,341.22 82.18,342.46 81.67,343.78 82.41,344.97 81.91,346.29 82.71,347.46 82.29,348.78 82.87,349.98 82.51,351.34 83.30,352.58 82.72,353.96 83.31,355.23 82.90,356.58 83.72,357.83 83.05,359.23 83.89,360.30 83.43,361.56 84.18,362.64 83.79,363.89 84.02,364.93 84.96,363.68 84.45,362.09 85.64,360.95 85.32,359.38 85.52,358.93 87.60,359.62 87.32,361.05 88.32,362.24 87.75,363.73 88.94,364.76 88.55,366.36 89.63,366.90 89.96,368.19 91.47,368.68 91.00,370.33 91.63,370.74 93.09,369.76 92.62,367.90 94.09,366.74 95.00,367.68 94.42,369.06 95.06,369.94 95.94,368.68 95.52,367.11 96.72,365.95 96.42,364.65 97.65,363.81 96.98,362.34 98.12,361.55 98.82,360.04 99.81,362.72 99.76,361.14 101.12,359.93 100.91,357.83 102.01,357.78 103.88,358.34 105.02,360.67 104.16,358.99 106.03,358.61 105.21,356.83 106.87,355.96 106.18,354.33 107.39,353.15 107.08,351.63 107.93,350.57 107.45,349.29 108.14,348.20 107.80,346.94 108.80,345.91 108.31,344.63 109.10,343.56 108.62,342.28 109.48,341.23 109.56,339.96 109.04,341.33 110.01,342.46 109.58,343.81 110.49,344.95 110.19,346.28 110.95,347.44 110.57,348.79 111.23,349.95 111.11,351.44 111.94,352.72 111.73,354.25 112.83,355.13 112.22,356.52 113.73,357.21 112.79,359.03 114.81,359.60 114.09,361.20 114.48,361.74 115.92,361.21 115.41,359.70 117.11,359.31 116.32,357.68 118.14,357.21 117.56,355.56 119.46,354.35 118.93,352.85 120.15,352.05 120.02,350.66 121.51,349.85 122.01,347.99 121.83,349.83 123.74,349.79 123.55,351.28 124.82,352.03 124.56,353.70 126.27,353.97 127.29,355.83 126.75,354.03 128.44,353.87 128.06,351.97 129.77,351.18 129.16,349.32 130.17,350.17 132.14,349.57 131.56,350.88 132.56,351.83 132.00,353.14 132.94,354.07 132.73,355.74 133.18,356.83 134.50,355.70 134.43,354.11 135.52,352.90 134.99,351.31 136.26,350.35 137.52,347.70 138.34,350.17 138.39,348.28 139.38,347.25 138.77,345.95 139.46,344.86 139.06,343.60 139.86,342.53 139.58,341.22 140.42,340.06 139.80,338.70 140.50,337.52 140.20,336.21 140.96,335.04 140.53,333.71 141.23,332.53 140.83,331.20 141.52,330.02 141.25,328.72 141.95,327.54 141.39,326.19 142.19,325.02 141.78,323.70 142.56,322.53 142.17,321.21 143.07,320.12 142.58,318.76 143.89,317.95 144.21,316.26 144.84,318.01 144.61,316.65 145.05,315.35 144.64,313.97 145.42,312.69 144.83,311.30 145.67,310.03 145.31,308.65 145.93,307.37 145.37,305.96 146.21,304.70 145.63,303.40 146.06,301.97 145.13,300.81 145.70,299.35 144.68,298.21 145.08,296.78 144.09,295.63 144.72,294.16 143.45,293.06 142.85,292.16 144.18,293.23 145.22,292.14 144.90,290.78 145.79,289.65 145.47,288.32 146.00,287.05 145.55,285.72 146.31,284.47 145.76,283.13 146.47,281.88 146.06,280.55 146.54,279.28 146.02,277.94 146.68,276.69 146.36,275.34 146.90,274.06 146.69,272.72 147.36,271.46 146.69,270.08 147.53,268.84 147.54,267.47 147.24,268.70 147.91,269.80 147.46,271.05 148.38,272.11 147.92,273.35 148.55,274.56 148.21,275.84 148.76,277.06 148.20,278.36 149.03,279.55 148.63,280.84 149.17,282.06 148.58,283.40 149.47,284.45 148.92,285.75 149.93,286.78 149.39,288.07 150.51,288.90 149.84,290.86 152.03,290.97 152.47,293.81 153.74,293.27 154.64,292.25 154.32,290.95 155.23,289.93 154.53,288.54 155.56,287.54 155.21,286.06 156.11,284.78 155.69,283.29 156.63,282.01 155.97,280.48 157.00,279.20 156.52,277.85 157.29,276.61 156.78,275.26 157.45,274.01 156.91,272.66 157.68,271.42 157.08,270.06 157.76,268.81 157.36,267.47 158.05,266.17 157.60,264.76 158.45,263.48 157.86,262.06 158.44,260.74 158.15,259.35 158.88,258.05 159.06,256.63 158.48,258.09 159.32,259.41 158.93,260.85 159.63,262.18 159.01,263.65 159.79,264.98 159.24,266.38 160.07,267.68 159.65,269.07 160.26,270.39 159.69,271.79 160.31,273.11 159.90,274.50 160.70,275.77 160.29,277.04 161.18,278.09 160.70,279.37 161.51,280.44 160.94,281.78 161.99,282.83 161.55,284.29 162.74,285.31 162.39,286.73 163.50,287.71 162.97,289.05 163.67,290.12 163.35,291.42 164.74,292.11 164.02,294.09 165.14,294.05 167.49,294.86 166.88,293.27 168.33,292.50 167.99,291.02 168.29,290.56 169.01,289.94 171.12,290.03 171.06,288.25 172.18,288.44 173.48,289.24 172.68,290.77 174.18,291.40 173.68,293.27 175.44,293.28 176.20,295.94 178.69,295.47 178.79,297.04 180.52,297.15 180.26,299.13 181.35,299.92 182.21,298.66 181.91,297.12 183.31,296.02 182.62,294.60 183.80,293.75 183.31,291.92 185.33,292.33 185.87,290.30 187.98,289.90 187.78,287.64 189.64,288.26 189.50,286.82 191.12,286.02 190.60,284.45 191.85,283.45 191.30,282.00 192.37,280.94 191.70,279.46 192.99,278.47 192.50,276.83 193.85,275.72 193.31,273.86 194.16,273.16 195.46,274.10 194.98,275.59 195.20,276.45 196.83,275.77 196.08,274.26 197.38,273.46 197.16,271.72 198.52,270.86 199.49,269.08 199.22,270.65 200.56,271.77 200.02,273.46 201.49,274.32 200.86,276.05 202.38,276.86 202.15,278.43 203.14,279.65 202.87,281.23 203.28,282.27 205.07,280.94 204.71,279.35 206.03,278.22 205.13,276.40 206.88,275.35 207.39,272.88 207.25,274.52 209.03,275.21 209.43,276.74 209.24,275.19 210.24,273.97 209.81,272.34 211.05,271.51 210.62,270.17 212.10,269.71 211.47,268.02 211.98,267.62 213.28,268.78 212.81,270.37 213.90,271.62 213.41,273.09 214.25,274.40 213.57,275.89 214.47,277.19 213.98,278.65 214.95,279.94 214.28,281.30 215.22,282.45 214.57,283.81 215.61,284.94 214.94,286.30 216.34,286.99 215.79,289.03 217.53,289.31 217.53,291.55 218.95,291.03 220.64,291.91 221.29,290.45 223.29,290.79 222.86,288.69 224.59,288.96 224.83,286.61 226.33,287.09 228.20,286.46 228.14,288.46 230.26,288.34 230.42,289.85 231.31,289.90 232.59,288.91 231.76,287.35 233.19,286.39 232.51,284.78 233.99,284.24 233.50,282.83 233.97,282.96 236.19,282.18 235.87,283.87 236.53,284.55 237.61,283.46 237.33,282.02 238.49,280.91 237.99,279.63 238.63,278.54 238.35,277.29 239.06,276.21 238.71,274.96 239.41,273.78 239.07,272.46 239.74,271.28 239.43,269.97 240.18,268.80 239.72,267.46 240.50,266.17 240.00,264.69 240.81,263.40 241.03,261.53 241.31,263.28 243.87,263.33 243.26,265.21 245.03,265.64 244.77,267.38 246.73,267.60 246.88,269.88 248.67,270.77 248.08,272.78 249.81,273.69 249.31,276.25 250.84,276.08 252.53,275.27 253.19,272.98 254.39,274.80 253.82,273.17 255.40,272.29 254.70,270.44 256.60,270.12 255.92,267.82 258.75,268.36 258.60,265.60 260.25,265.13 261.41,265.99 260.88,267.36 261.93,268.25 261.83,269.81 263.23,270.90 262.72,272.58 263.96,273.44 263.15,274.90 264.61,275.69 264.06,277.08 265.14,278.33 264.65,280.07 265.88,281.28 265.76,282.81 266.67,284.09 266.40,285.65 267.36,286.82 267.03,288.65 268.17,289.23 270.51,289.69 269.67,287.68 270.74,287.35 273.00,287.76 272.41,289.36 273.70,290.27 273.18,291.83 274.39,292.82 274.04,294.32 275.18,295.33 275.75,296.94 275.23,295.02 277.55,294.94 276.97,293.10 278.65,292.34 277.88,290.52 279.47,289.73 279.10,287.99 280.71,287.44 280.64,285.89 282.04,285.25 281.91,283.72 283.34,283.22 284.05,281.83 283.65,283.20 285.14,283.74 284.42,285.17 285.93,286.00 285.14,287.48 286.43,288.38 285.79,289.79 286.86,290.85 286.63,292.19 287.63,293.26 286.97,294.69 287.98,295.74 287.68,297.32 288.79,298.51 288.37,300.17 289.71,300.96 289.24,302.43 290.74,303.15 289.90,304.76 290.47,305.49 291.87,304.41 291.52,302.75 292.98,301.73 292.08,300.03 293.65,299.31 294.34,297.76 293.61,299.40 295.24,300.09 294.91,301.54 295.91,302.76 295.53,304.33 296.46,305.58 296.02,307.21 297.51,308.26 296.93,310.00 297.55,311.18 298.40,310.02 297.90,308.70 298.49,307.51 298.09,306.20 298.93,305.02 298.35,303.73 299.02,302.52 298.69,301.24 299.08,300.01 298.82,298.74 299.33,297.52 298.86,296.23 299.37,295.01 298.92,293.73 299.71,292.52 299.08,291.23 299.72,290.01 299.36,288.69 299.75,287.40 299.34,286.08 299.94,284.79 299.54,283.47 300.07,282.18 299.56,280.86 300.05,279.57 299.68,278.25 300.21,276.97 299.76,275.64 300.28,274.36 299.92,273.04 300.38,271.75 299.98,270.43 300.51,269.14 300.08,267.82 300.47,266.53 300.09,265.21 300.57,263.92 300.18,262.60 300.77,261.31 300.34,259.99 300.84,258.70 300.33,257.36 300.95,256.06 300.49,254.73 300.98,253.43 300.62,252.10 301.09,250.80 300.74,249.47 301.14,248.16 300.80,246.83 301.24,245.53 300.91,244.20 301.43,242.90 301.05,241.57 301.45,240.27 301.09,238.94 301.71,237.64 301.28,236.31 301.76,235.01 301.29,233.69 301.94,232.43 301.40,231.11 301.93,229.83 301.62,228.52 302.17,227.25 301.72,225.93 302.10,224.65 301.71,223.34 302.26,222.07 301.95,220.76 302.40,219.48 302.08,218.17 302.61,216.90 302.18,215.58 302.66,214.30 302.78,212.96 302.26,214.38 303.00,215.65 302.67,217.04 303.36,218.31 303.13,219.69 303.15,220.95 303.95,219.82 303.65,218.53 304.34,217.38 303.72,216.05 304.69,214.94 304.18,213.62 305.08,212.50 304.39,211.16 305.31,210.10 305.00,208.75 306.42,207.97 305.47,206.41 306.93,205.81 307.09,203.86 308.55,202.83 307.87,201.21 309.03,200.03 308.53,198.72 309.13,197.52 308.84,196.23 309.31,195.01 308.94,193.72 309.56,192.52 309.18,191.22 309.79,190.00 309.43,188.66 309.96,187.34 309.49,186.00 309.91,184.67 309.55,183.33 309.91,182.00 309.63,180.66 310.03,179.34 309.56,177.99 310.00,176.67 309.59,175.33 310.17,174.00 309.83,172.66 310.23,171.34 309.82,170.00 310.22,168.67 309.90,167.33 310.25,166.00 309.85,164.66 310.33,163.34 309.86,162.00 310.34,160.67 309.86,159.33 310.27,158.00 310.02,156.67 310.35,155.34 310.03,154.00 310.31,152.67 310.02,151.33 310.42,150.01 309.99,148.66 310.51,147.35 309.98,146.00 310.45,144.68 310.12,143.34 310.51,142.02 310.16,140.68 310.64,139.36 310.33,138.03 310.32,136.71 310.80,138.02 310.36,139.37 310.94,140.68 310.47,142.03 310.89,143.34 310.43,144.69 311.02,146.00 310.68,147.34 311.14,148.66 310.70,150.01 311.26,151.24 310.73,152.51 311.32,153.74 310.76,155.01 311.34,156.24 310.82,157.51 311.31,158.75 311.04,160.01 311.57,161.24 311.20,162.50 311.62,163.74 311.05,165.02 311.74,166.27 311.20,167.59 311.71,168.85 311.38,170.15 311.95,171.42 311.52,172.72 312.02,173.99 311.56,175.30 312.07,176.56 311.84,177.86 312.28,179.13 311.74,180.44 312.45,181.70 311.88,183.03 312.55,184.35 312.06,185.79 312.73,187.11 312.49,188.52 313.18,189.84 312.57,191.28 313.33,192.60 312.78,194.05 313.55,195.26 313.18,196.61 313.85,197.84 313.60,199.17 314.20,200.40 313.98,201.73 314.61,202.95 314.16,204.26 314.97,205.35 314.51,206.67 315.29,207.77 314.89,209.10 316.01,210.15 315.54,211.59 316.76,212.62 316.28,214.03 317.01,215.20 316.58,216.55 317.40,217.70 317.20,217.87 316.39,219.91 314.97,219.23 315.89,220.36 315.45,221.73 316.51,222.83 315.77,224.25 316.85,225.35 316.45,226.70 317.21,227.92 316.83,229.29 317.50,230.52 317.23,231.88 317.98,233.09 317.31,234.51 318.33,235.69 317.80,237.08 318.57,238.30 318.20,239.62 318.97,240.79 318.54,242.12 319.25,243.30 318.94,244.61 319.73,245.78 319.05,247.14 320.22,248.18 319.53,249.70 320.56,250.77 320.33,252.17 321.52,253.21 320.73,254.79 322.01,255.91 321.49,257.43 322.66,258.56 322.32,260.01 322.85,261.27 322.42,262.58 323.01,263.83 322.52,265.14 323.10,266.40 322.63,267.71 323.20,268.96 322.78,270.27 323.42,271.52 322.84,272.84 323.42,274.09 323.02,275.40 323.69,276.64 323.10,277.99 323.82,279.24 323.23,280.58 323.87,281.84 323.51,283.17 324.18,284.42 323.73,285.76 324.45,287.01 323.38,288.72 325.21,289.20 324.67,290.86 326.41,291.48 325.70,293.10 327.07,294.04 326.49,295.62 327.97,296.44 327.70,297.96 329.25,298.57 328.55,300.31 330.22,300.86 329.73,302.49 329.96,302.75 332.43,302.59 332.00,300.33 334.10,300.77 334.76,298.58 334.50,300.50 335.21,300.52 337.08,300.07 336.19,298.23 336.88,297.79 338.70,298.46 339.00,300.07 338.71,298.71 339.52,297.57 339.19,296.20 340.08,295.04 339.55,293.68 340.24,292.44 339.71,291.08 340.38,289.83 339.94,288.48 340.68,287.24 340.40,285.91 341.01,284.66 340.59,283.31 341.29,282.06 340.77,280.72 341.27,279.45 341.06,278.14 341.44,276.86 341.13,275.54 341.80,274.28 341.43,272.95 341.89,271.69 341.51,270.36 342.21,269.10 341.57,267.75 342.39,266.51 341.84,265.17 342.50,263.91 342.13,262.58 342.70,261.32 342.29,259.97 342.91,258.70 342.43,257.28 343.32,256.04 342.79,254.62 342.95,253.42 343.93,254.51 343.52,255.92 344.63,256.98 344.26,258.36 345.08,259.52 344.37,260.89 345.22,262.05 344.93,263.36 345.74,264.53 345.12,265.88 345.89,267.05 346.18,268.38 345.79,266.91 346.65,265.61 346.07,264.12 346.93,262.82 346.59,261.36 347.30,260.04 346.88,258.62 347.68,257.37 347.37,255.96 348.03,254.70 348.38,253.28 347.74,254.78 348.82,256.05 348.23,257.55 349.19,258.83 348.77,260.31 349.45,261.60 348.99,263.03 349.95,264.12 349.80,265.47 350.76,266.60 350.31,268.10 351.01,269.41 350.70,270.88 351.67,272.15 351.27,273.64 351.17,274.90 352.24,273.73 351.81,272.25 352.83,271.07 352.50,269.62 353.45,268.39 352.95,266.99 353.73,265.76 353.08,264.35 353.96,263.13 353.39,261.73 354.18,260.50 354.41,259.12 354.04,260.41 354.85,261.46 354.39,262.76 355.48,263.76 354.85,265.10 355.89,266.27 355.66,267.71 356.64,268.90 356.14,270.39 357.18,271.16 357.15,272.85 358.02,273.30 358.74,272.02 358.40,270.64 358.89,269.35 358.62,267.97 359.36,266.70 358.94,265.31 359.48,264.02 359.08,262.63 359.86,261.37 359.19,259.91 360.32,258.92 359.64,257.57 360.61,256.55 360.08,255.23 360.65,254.20 361.24,255.39 361.01,256.70 361.84,257.85 361.27,259.22 362.27,260.35 361.39,261.83 362.93,262.76 362.20,264.29 363.36,265.32 364.12,267.46 363.49,265.16 365.31,265.09 364.88,263.70 365.90,262.73 365.77,261.44 366.83,260.48 367.10,259.09 366.42,260.50 367.55,261.59 367.11,262.96 367.99,264.09 367.26,265.51 368.33,266.64 367.85,267.99 368.49,269.24 368.22,270.57 368.84,271.82 368.24,273.19 368.96,274.43 368.54,275.78 369.44,276.99 369.52,278.42 368.90,277.08 370.00,276.18 369.81,274.99 370.31,273.76 369.79,272.49 370.41,271.26 370.08,269.99 370.61,268.76 370.08,267.49 370.69,266.26 370.27,264.99 370.70,263.76 370.42,262.49 370.78,261.26 370.43,259.98 370.99,258.77 370.54,257.48 371.26,256.27 370.79,254.99 371.45,253.77 370.88,252.48 371.47,251.26 371.16,249.99 371.79,248.77 371.21,247.48 371.73,246.26 371.18,244.87 372.37,243.85 371.95,242.40 373.19,241.39 372.74,239.96 373.51,238.71 373.10,237.27 374.19,236.08 373.73,234.63 374.79,233.55 373.98,232.02 375.27,231.22 375.66,229.97 375.14,231.37 375.94,232.63 375.44,234.03 376.10,235.31 375.71,236.69 376.35,237.98 375.99,239.36 376.66,240.64 376.36,242.01 376.36,243.25 377.36,242.17 376.96,240.73 378.11,239.70 377.60,238.27 378.44,236.98 378.05,235.51 378.86,234.20 378.54,232.74 379.18,231.42 379.82,229.09 379.87,230.90 380.95,232.08 380.49,233.48 381.12,234.73 380.89,236.10 381.55,237.34 381.18,238.73 381.85,239.97 381.56,241.30 382.49,242.43 381.84,243.83 382.74,244.96 382.53,246.28 383.35,247.43 382.82,248.80 383.78,249.77 383.52,251.29 384.87,252.01 385.42,253.54 385.14,252.01 386.52,251.31 386.11,249.44 388.22,249.88 387.95,248.20 389.17,247.22 388.71,245.68 390.20,244.79 389.59,243.27 390.66,242.10 390.15,240.71 390.97,239.50 390.48,238.11 391.27,236.90 390.78,235.51 391.64,234.31 391.22,232.93 391.45,231.63 391.03,233.15 391.90,231.72 392.91,233.01 392.37,234.48 393.01,235.81 392.60,237.27 393.47,238.58 392.97,240.07 394.02,241.25 393.62,242.72 394.40,243.95 393.92,245.43 395.28,246.42 394.38,248.07 396.03,248.70 395.39,250.16 396.91,251.10 396.24,252.61 397.57,253.60 397.08,255.05 397.81,256.29 397.38,257.76 398.38,258.95 398.03,260.41 399.12,261.58 398.50,263.09 399.47,264.28 399.00,265.76 399.94,266.96 400.53,268.54 399.75,266.94 401.41,266.32 401.05,264.95 402.08,263.76 401.37,262.26 402.48,261.08 401.78,259.58 403.17,258.57 402.38,257.04 403.90,256.33 404.04,254.93 403.65,256.39 404.49,257.61 404.18,259.06 404.93,260.30 404.39,261.98 406.05,262.53 405.35,264.27 406.86,264.97 406.46,266.46 407.35,267.74 407.06,269.21 407.83,270.51 407.29,272.02 408.57,273.10 407.96,274.64 409.23,275.42 409.03,276.80 410.29,277.57 409.56,279.23 411.35,279.74 410.75,281.43 412.69,281.85 412.19,283.48 413.51,284.22 413.11,285.81 414.47,286.60 414.14,288.09 415.31,289.21 414.90,290.73 415.98,291.88 416.16,293.41 415.69,291.88 416.78,290.74 416.31,289.20 417.54,288.10 416.95,286.52 418.44,285.58 417.71,284.05 418.72,282.98 419.13,281.62 418.55,283.09 419.70,284.26 419.10,285.74 420.11,286.94 419.29,288.61 421.14,289.17 420.33,290.78 420.78,291.45 422.09,290.68 421.96,289.34 422.97,288.41 422.49,286.94 423.89,285.98 423.14,284.44 424.56,284.23 425.58,282.42 425.53,283.97 426.57,285.17 426.45,286.73 427.46,287.80 426.74,289.33 428.25,290.27 427.75,291.73 428.81,292.88 428.19,294.45 429.47,295.55 428.96,297.09 430.08,297.92 429.74,299.92 430.57,299.62 432.55,299.22 431.87,297.49 432.72,296.78 433.84,297.62 433.51,299.04 434.61,299.94 434.33,301.39 435.30,302.58 434.70,304.09 435.66,305.28 436.51,307.34 436.02,305.58 437.87,305.69 437.01,303.64 437.76,303.56 439.17,304.28 438.63,305.80 440.35,306.40 439.75,307.92 440.88,308.76 440.36,310.26 441.82,310.96 441.58,312.34 442.70,313.26 442.32,314.63 443.10,315.78 442.79,317.14 443.66,318.15 443.21,319.86 445.15,320.07 444.74,322.17 446.71,322.09 446.53,324.18 447.39,324.05 449.63,323.57 449.15,321.74 450.48,320.76 450.25,319.24 451.45,318.23 451.91,316.66 451.27,318.06 452.40,318.99 451.74,320.40 453.12,321.26 452.34,322.70 453.66,323.57 453.09,324.95 454.14,325.91 453.75,327.24 454.12,328.22 454.92,326.94 454.51,325.49 455.27,324.20 454.95,322.76 455.80,321.48 455.32,320.02 456.06,318.74 455.81,317.38 456.58,316.20 456.10,314.80 457.05,313.66 456.70,312.28 457.68,311.46 457.44,309.70 459.06,309.50 459.06,307.58 461.16,307.51 460.67,306.02 461.93,305.46 462.93,303.93 462.35,305.47 463.52,306.08 463.98,307.76 464.06,305.88 464.91,307.26 466.79,305.88 467.06,307.72 468.73,306.78 469.53,308.48 469.84,306.88 471.51,306.52 471.15,304.89 473.07,304.79 472.62,303.30 473.89,302.38 473.11,300.99 474.35,300.06 473.86,298.74 475.20,298.13 474.16,296.21 475.08,295.82 475.97,296.98 475.57,298.37 476.57,299.51 476.07,300.91 476.93,302.08 476.29,303.60 477.87,304.35 477.06,305.89 478.41,306.72 477.85,308.18 478.47,308.81 480.40,308.82 480.46,307.14 481.33,306.15 481.19,304.83 482.39,303.95 481.56,302.40 482.98,301.55 482.45,300.12 483.53,299.01 482.89,297.56 484.18,296.49 483.41,295.01 484.65,294.18 484.47,292.63 485.01,291.99 485.99,293.14 485.50,294.54 486.63,295.66 486.15,297.06 486.85,298.25 486.37,299.76 488.01,300.58 487.18,302.39 489.23,302.82 488.54,304.67 490.30,304.87 489.53,307.02 491.72,306.74 491.55,308.61 493.26,308.85 492.67,310.62 494.54,310.90 494.03,312.35 495.40,313.17 494.87,314.62 496.24,315.44 495.50,317.05 497.17,317.81 496.63,319.67 498.57,320.30 497.91,322.22 499.95,322.79 499.14,324.79 500.98,325.47 500.50,327.30 502.56,327.74 502.06,329.45 503.72,329.73 503.23,331.27 504.45,332.37 504.16,333.90 505.17,335.06 504.67,336.65 506.22,337.63 505.29,339.21 506.93,339.94 506.10,341.49 507.73,342.23 507.13,343.76 508.78,344.53 508.03,346.50 510.09,347.07 509.62,348.90 511.34,349.63 510.84,351.72 512.80,351.68 513.67,354.00 513.79,351.86 514.92,352.64 516.50,351.88 516.87,353.55 518.27,353.13 518.36,354.91 520.89,354.20 521.17,356.53 523.11,355.85 523.38,357.58 524.97,358.19 524.56,359.92 526.01,360.47 526.12,362.27 527.95,361.99 528.09,364.13 529.14,363.43 530.62,363.03 530.47,361.55 531.71,360.87 531.42,359.45 532.59,358.38 531.80,356.83 532.99,355.77 532.61,354.33 533.67,353.21 533.21,351.73 534.25,350.49 533.50,348.97 534.39,347.71 534.12,346.27 534.99,345.00 534.41,343.47 535.53,342.53 534.88,341.16 535.91,340.19 535.55,338.90 536.92,338.57 536.79,336.51 538.50,336.31 538.46,334.36 540.42,334.27 540.05,332.64 541.68,332.35 541.56,330.76 543.36,330.65 544.56,328.53 544.21,330.79 546.37,330.84 545.80,332.72 547.54,333.45 546.83,335.54 548.97,335.50 548.30,337.33 549.28,337.52 550.97,337.30 551.18,335.89 552.11,334.71 551.46,333.33 552.17,332.12 551.75,330.77 552.53,329.57 551.92,328.05 553.33,327.13 553.20,325.60 553.64,324.40 554.18,325.47 554.27,326.58 553.62,325.11 554.94,324.19 554.41,322.75 555.37,321.69 554.97,320.31 555.57,319.01 555.27,317.63 555.95,316.34 555.48,314.95 556.15,313.66 555.62,312.26 556.31,310.97 555.82,309.58 556.54,308.31 556.31,306.81 557.09,305.46 556.47,303.91 556.70,302.57 557.58,303.77 557.05,305.11 557.70,306.33 557.24,307.66 558.08,308.87 557.59,310.21 558.30,311.42 557.66,312.78 558.44,313.98 558.22,315.40 558.80,316.71 558.41,318.16 559.20,319.45 558.70,320.91 559.54,322.19 558.89,323.81 560.39,324.71 559.77,326.37 561.23,326.85 562.19,328.79 563.77,328.03 563.88,329.76 566.06,329.49 565.51,331.59 567.29,332.30 566.97,334.05 568.77,334.65 568.04,336.51 569.88,336.67 569.43,338.35 571.30,338.48 570.70,340.27 572.56,340.22 572.42,342.27 574.20,342.10 574.53,343.82 576.31,342.65 576.41,344.86 578.06,344.46 577.87,346.15 579.68,346.84 578.98,349.11 580.91,349.09 581.04,350.87 583.02,350.80 582.73,353.01 585.03,353.00 585.15,355.49 587.17,354.31 587.60,355.73 587.30,354.40 587.77,353.08 587.34,351.74 587.91,350.42 587.49,349.08 587.97,347.77 587.60,346.43 588.04,345.11 587.61,343.77 587.93,342.45 587.57,341.11 588.20,339.80 587.67,338.46 588.23,337.14 587.79,335.80 588.18,334.48 587.81,333.15 588.34,331.84 587.93,330.53 588.29,329.22 587.97,327.91 588.31,326.61 587.89,325.29 588.30,323.99 588.10,322.67 588.37,321.37 587.98,320.05 588.49,318.75 588.03,317.43 588.56,316.13 588.04,314.81 588.58,313.51 588.26,312.20 588.52,310.89 588.22,309.58 588.56,308.27 588.28,306.99 588.65,305.72 588.19,304.44 588.84,303.17 588.31,301.89 588.78,300.62 588.41,299.34 588.76,298.07 588.46,296.79 588.82,295.52 588.49,294.24 589.01,292.97 588.57,291.69 589.04,290.42 588.50,289.13 589.20,287.92 588.70,286.67 589.15,285.45 588.71,284.20 589.32,282.99 588.96,281.74 588.91,280.53 589.59,281.80 588.98,283.14 589.62,284.40 589.28,285.72 589.72,287.00 589.41,288.32 589.85,289.60 589.40,290.93 590.08,292.19 589.74,293.51 590.09,294.80 589.85,296.11 590.43,297.38 589.94,298.71 590.56,299.96 590.12,301.26 590.57,302.52 590.11,303.83 590.70,305.07 590.38,306.37 590.97,307.61 590.58,308.92 591.18,310.16 590.61,311.48 591.22,312.72 590.86,314.04 591.57,315.34 591.14,316.78 591.94,318.07 591.38,319.52 592.19,320.81 591.66,322.26 592.68,323.45 592.40,324.93 593.44,326.01 593.10,327.45 593.78,328.75 593.32,330.19 594.23,331.47 593.76,332.92 594.47,334.22 594.20,335.64 594.80,336.95 594.38,338.39 595.24,339.67 594.69,341.12 595.38,342.42 594.99,343.85 595.90,345.13 595.27,346.63 596.31,347.61 595.66,348.94 596.92,349.88 596.22,351.21 597.20,352.21 596.72,353.63 597.84,354.74 597.18,356.20 598.34,357.29 597.82,358.72 598.79,359.86 598.36,361.27 599.29,362.41 598.95,363.80 599.78,364.96 599.20,366.41 600.50,367.43 599.80,368.85 601.09,369.73 600.53,371.11 601.36,372.12 601.00,373.45 602.11,374.38 601.68,375.73 602.82,376.65 602.15,378.06 602.39,379.24 603.06,378.00 603.00,376.85 602.32,378.49 604.09,378.90 603.38,380.56 605.02,381.05 604.30,382.71 605.83,383.25 605.36,384.79 606.98,385.22 606.87,386.81 608.66,387.12 609.00,389.28 609.42,387.51 610.41,387.81 611.79,388.40 611.69,389.97 613.18,390.54 612.72,392.08 614.28,392.60 613.93,394.08 614.61,394.24 616.39,395.19 617.73,393.48 616.93,395.19 618.46,395.73 618.23,397.15 619.69,397.43 619.68,399.53 621.86,399.77 621.32,401.34 622.89,401.87 622.29,403.47 623.75,403.97 623.57,405.60 625.41,405.87 625.74,407.48 625.23,406.11 626.34,405.07 625.90,403.71 626.73,402.61 626.28,401.26 627.11,400.16 626.59,398.75 627.61,397.65 627.24,396.28 628.18,395.16 628.35,393.77 628.07,395.18 628.97,396.29 628.66,397.71 629.89,398.72 628.85,400.82 631.46,400.45 631.84,402.36 631.25,400.51 632.84,399.53 632.76,397.88 634.16,396.83 633.61,394.99 635.42,394.37 635.26,392.53 636.89,391.93 636.49,390.16 637.99,389.15 637.58,387.44 638.95,386.46 638.52,385.00 639.51,383.93 638.94,382.43 640.41,381.57 639.75,379.69 641.62,378.82 642.06,377.39 640.52,378.11 641.17,379.71 639.48,380.36 640.04,381.03 640.40,383.31 641.86,382.56 643.77,383.93 644.25,382.08 646.35,382.44 646.01,380.36 647.89,380.13 647.11,378.70 648.39,377.78 647.99,376.45 649.12,375.50 648.55,374.13 649.36,373.07 649.12,371.77 649.77,370.60 649.36,369.28 650.25,368.13 649.78,366.80 650.46,365.63 649.93,364.28 650.73,363.14 650.44,361.81 651.17,360.66 650.72,359.31 651.61,358.18 651.32,356.86 652.00,355.72 651.79,354.26 652.94,353.17 652.52,351.66 653.41,350.76 654.41,349.54 654.17,350.90 654.91,352.12 654.30,353.53 655.20,354.74 654.78,356.12 655.43,357.35 655.03,358.78 656.02,359.94 655.61,361.38 656.80,362.50 656.24,363.97 657.22,365.13 656.69,366.59 656.92,367.75 657.90,366.59 657.38,365.13 658.47,363.99 658.15,362.57 659.09,361.40 658.59,359.95 659.45,358.76 658.90,357.19 660.46,356.30 660.83,354.72 660.40,356.03 661.06,357.18 660.59,358.49 661.44,359.61 661.04,360.91 661.96,362.10 661.24,363.56 662.34,364.72 662.17,366.09" fill="none" stroke="#6c9bd2" stroke-width="4.0" stroke-linejoin="round" stroke-linecap="butt"/>
<polyline points="53.19,241.68 52.81,240.32 53.35,239.01 52.92,237.65 53.54,236.35 53.11,234.96 53.78,233.79 53.32,232.40 54.38,231.31 54.09,229.97 54.96,228.67 54.36,227.19 55.25,225.89 54.69,224.41 55.52,223.10 55.16,221.66 55.68,220.35 55.12,218.99 55.79,217.68 55.29,216.32 55.96,215.02 55.58,213.66 56.11,212.35 55.59,210.99 56.13,209.68 55.86,208.33 56.40,207.02 55.89,205.66 56.50,204.35 55.92,202.99 55.70,201.92 57.57,202.63 56.95,204.26 58.20,205.43 57.60,207.04 57.78,208.22 59.13,207.10 58.63,205.62 59.39,204.38 59.12,202.95 60.26,201.80 59.55,200.41 60.66,199.44 60.14,198.09 61.14,197.09 60.64,195.75 61.62,194.74 61.09,193.40 62.24,192.43 61.50,191.04 62.85,190.14 62.05,188.58 63.59,187.66 62.69,186.08 63.17,185.80 65.35,185.69 64.80,187.36 65.54,188.28 66.61,186.99 66.00,185.51 66.88,184.21 66.44,182.75 67.25,181.44 66.45,179.33 67.73,179.21 68.40,180.47 67.94,181.90 69.10,183.09 68.59,184.53 69.42,185.77 68.87,187.12 69.55,188.30 69.24,189.62 70.08,190.77 69.39,192.14 69.74,193.25 70.85,192.37 70.41,191.03 71.51,190.12 70.98,188.53 72.24,187.36 71.24,185.52 72.97,184.93 72.11,183.30 73.81,182.76 73.65,181.06 75.15,180.13 74.76,178.69 75.64,177.58 75.27,176.14 76.38,175.06 75.97,173.63 76.59,172.36 76.14,170.93 77.08,169.71 76.51,168.26 77.67,167.07 77.10,165.62 77.93,164.38 77.45,162.95 78.37,161.72 77.81,160.37 78.68,159.22 78.13,157.87 79.13,156.73 78.50,155.38 79.34,154.23 78.76,152.93 79.67,151.88 79.31,150.62 80.33,149.59 79.36,147.81 80.27,147.58 81.12,148.71 80.82,150.07 81.84,151.17 81.49,152.53 82.25,153.78 81.68,155.23 82.47,156.47 82.09,157.89 83.12,159.04 82.46,160.44 83.73,161.27 84.06,162.55 83.43,161.20 84.18,160.02 83.98,158.72 84.72,157.55 84.03,156.19 84.90,155.02 84.51,153.72 85.24,152.53 84.80,151.23 85.43,150.03 85.05,148.73 85.68,147.53 85.22,146.22 85.93,145.03 85.56,143.58 86.40,142.27 86.00,140.81 86.67,139.49 86.12,138.01 86.25,137.18 87.89,137.48 87.42,138.85 88.18,140.10 87.88,141.45 88.53,142.71 88.02,144.09 88.72,145.34 88.42,146.70 89.07,147.95 88.55,149.33 89.39,150.56 88.83,151.95 89.59,153.19 89.27,154.55 90.07,155.77 89.41,157.30 90.45,158.56 90.08,160.04 90.78,161.35 90.42,162.84 91.29,164.10 90.74,165.46 92.07,166.38 91.51,167.73 92.39,168.76 91.80,170.12 93.06,171.06 92.34,172.45 93.48,173.42 93.14,174.72 94.00,175.76 93.41,177.12 94.52,178.09 94.12,179.41 95.11,180.42 94.62,181.76 95.64,182.75 94.96,184.13 96.07,185.11 95.85,186.38 97.01,187.28 96.13,189.10 97.92,190.06 97.27,192.31 98.39,191.51 99.85,191.74 100.78,192.96 100.31,194.40 101.38,195.60 100.73,197.06 101.65,198.29 101.24,199.75 101.93,201.08 101.60,202.53 102.18,203.87 101.82,205.32 102.57,206.65 102.08,208.04 102.77,209.32 102.32,210.71 103.22,211.96 103.00,212.19 101.77,213.28 101.06,214.77 102.00,216.07 101.66,217.52 102.39,218.84 101.95,220.31 102.57,221.65 102.11,222.95 102.88,224.14 102.43,225.45 103.25,226.63 102.63,227.95 103.33,229.14 102.98,230.44 103.73,231.63 103.16,232.95 103.96,234.13 103.45,235.45 104.04,236.65 103.65,237.95 104.47,239.13 104.00,240.44 104.69,241.64 104.05,243.09 104.92,244.42 104.30,245.86 104.92,247.21 104.57,248.64 105.46,249.93 105.01,251.36 105.67,252.63 105.33,254.04 106.15,255.28 105.52,256.86 106.95,257.58 106.22,259.15 107.53,259.96 107.38,261.38 108.11,262.62 107.89,264.05 108.63,265.29 108.08,266.81 109.48,267.71 108.96,269.06 109.88,270.07 109.40,271.41 110.48,272.25 110.17,274.02 110.92,274.17 112.43,274.40 113.90,275.10 113.52,276.54 114.67,277.42 114.34,278.73 115.30,279.73 114.64,281.11 115.76,282.08 115.41,283.40 116.30,284.50 115.95,285.93 117.15,286.95 116.51,288.43 117.61,289.60 117.04,291.10 118.23,292.25 117.70,293.74 118.69,294.92 118.19,296.26 119.36,297.22 118.76,298.58 119.89,299.55 119.27,300.92 120.27,302.01 119.82,303.43 121.03,304.47 120.46,305.58 120.83,307.07 119.37,307.54 120.28,308.75 119.54,310.18 120.45,311.39 119.89,312.80 120.91,314.00 120.42,315.39 121.09,316.65 120.75,317.98 121.37,319.24 120.80,320.58 121.58,321.83 120.95,323.17 121.71,324.42 121.15,325.76 121.87,327.01 121.50,328.34 122.07,329.64 121.73,331.01 122.15,332.32 121.72,333.69 122.32,334.99 122.10,336.35 122.54,337.66 122.10,339.03 122.76,340.32 122.52,341.68 123.13,342.98 122.70,344.35 123.34,345.64 122.75,347.03 123.53,348.31 122.88,349.70 123.67,350.98 123.12,352.36 123.72,353.66 123.32,355.03 124.06,356.23 123.54,357.53 124.16,358.74 123.74,360.03 124.59,361.22 124.13,362.51 124.63,363.73 124.15,365.05 125.10,366.19 124.59,367.53 125.23,368.72 125.34,370.00 124.95,368.66 125.52,367.34 125.07,365.99 125.50,364.67 125.13,363.33 125.56,362.00 125.19,360.66 125.57,359.34 125.24,357.99 125.83,356.67 125.33,355.33 125.85,354.01 125.45,352.66 125.91,351.34 125.39,349.99 125.96,348.71 125.50,347.40 125.97,346.12 125.53,344.81 126.12,343.53 125.69,342.22 126.00,340.93 125.62,339.63 126.23,338.34 125.72,337.03 126.19,335.75 125.73,334.44 126.19,333.15 125.89,331.85 126.25,330.56 125.87,329.26 126.33,327.97 125.98,326.66 126.56,325.36 125.96,323.98 126.63,322.68 126.19,321.31 126.83,320.01 126.32,318.64 127.03,317.35 126.63,315.99 127.11,314.68 127.28,313.22 126.99,314.79 128.27,315.80 127.93,317.16 128.55,318.42 128.17,319.79 128.96,321.03 128.51,322.40 129.31,323.64 128.71,325.03 129.46,326.36 128.99,327.81 129.81,329.13 129.16,330.59 130.01,331.91 130.18,333.39 129.61,332.01 130.73,330.91 130.14,329.53 131.03,328.37 130.38,326.90 131.23,325.58 130.87,324.14 131.44,322.80 131.00,321.35 131.83,320.03 131.20,318.72 132.09,317.53 131.60,316.23 132.11,315.02 131.80,313.73 132.32,312.52 131.89,311.22 132.73,310.04 132.06,308.57 132.84,307.25 132.35,305.79 133.13,304.47 132.75,303.03 133.51,301.70 133.11,300.27 133.56,298.90 133.13,297.47 133.83,296.13 133.48,294.70 134.45,293.64 135.04,291.62 134.67,293.02 135.27,294.30 134.87,295.70 135.65,296.96 135.29,298.35 135.92,299.55 135.31,300.87 136.09,302.06 135.65,303.36 136.24,304.56 135.80,305.31 135.39,306.62 134.99,308.09 135.85,309.38 135.12,310.90 135.98,312.19 135.50,313.68 136.49,314.94 135.93,316.33 137.07,317.42 136.54,318.80 137.49,319.92 136.86,321.32 137.95,322.43 137.45,323.93 138.38,325.21 137.66,326.75 138.80,327.99 138.24,329.50 139.05,330.79 138.70,332.28 139.58,333.56 139.07,335.07 140.14,336.32 139.57,337.84 140.41,339.13 139.99,340.62 141.01,341.88 140.59,343.37 141.54,344.65 140.87,346.18 141.73,347.46 141.20,348.84 142.18,349.96 141.86,351.30 142.83,352.42 142.21,353.82 143.24,354.92 142.66,356.42 143.74,357.59 143.32,359.07 144.17,360.28 143.86,361.79 145.24,362.53 144.41,364.15 145.66,364.17 146.62,366.16 149.07,366.21 148.65,367.56 149.74,368.46 149.04,369.89 150.24,370.76 149.89,372.20 151.00,373.24 150.45,374.73 151.68,375.75 151.25,377.08 152.24,378.08 151.71,379.43 152.92,380.38 152.26,381.80 153.75,382.85 153.26,384.54 154.37,385.71 154.15,387.31 155.18,388.52 156.07,390.40 155.29,388.37 157.00,387.61 156.78,386.00 157.99,384.86 157.47,382.48 158.76,382.65 160.21,383.60 159.52,385.13 160.62,386.17 160.28,387.60 161.31,388.67 160.89,390.12 162.13,391.13 161.60,392.69 163.09,393.72 162.89,395.40 163.72,396.64 163.17,398.16 164.69,399.15 163.81,400.79 165.17,401.82 164.67,403.35 165.95,404.41 166.20,405.89 165.53,404.47 166.56,403.28 166.09,401.89 166.96,400.68 166.37,399.27 167.18,398.04 166.64,396.67 167.24,395.41 166.85,394.06 167.65,392.81 167.15,391.45 167.83,390.20 167.38,388.84 167.97,387.58 167.59,386.23 168.15,384.96 167.82,383.61 168.54,382.36 168.06,381.00 168.76,379.75 168.14,378.37 169.11,377.15 168.64,375.78 169.34,374.53 168.76,373.15 169.39,371.90 169.10,370.55 169.71,369.29 169.44,367.94 170.06,366.69 169.46,365.31 170.26,364.07 169.74,362.70 171.01,361.95 170.78,359.84 171.58,358.92 172.78,360.04 172.08,361.54 173.34,362.65 172.67,364.14 173.73,365.29 174.19,366.78 173.38,365.22 174.83,364.18 174.19,362.65 175.39,361.55 174.78,360.03 175.26,358.86 175.92,360.09 175.73,361.47 176.44,362.69 176.16,364.09 177.00,365.29 176.43,366.73 177.47,367.90 176.84,369.46 178.44,370.34 177.94,372.05 179.39,372.98 180.20,375.12 179.53,373.16 181.24,373.10 181.96,371.82 181.28,373.24 182.16,374.45 181.76,375.84 182.58,377.06 182.05,378.46 182.84,379.68 182.61,381.05 183.20,382.29 182.72,383.69 183.09,384.90 183.91,383.70 183.53,382.28 184.28,381.07 184.00,379.67 184.80,378.47 184.45,377.06 185.13,375.83 184.97,374.47 185.49,373.20 185.13,371.85 185.72,370.59 185.52,369.25 186.10,367.99 185.67,366.63 186.43,365.39 186.04,364.03 186.61,362.77 186.20,361.41 186.76,360.14 186.30,358.78 187.08,357.54 186.81,356.19 187.41,354.93 187.01,353.56 187.85,352.36 187.37,350.94 188.10,349.71 187.89,348.34 188.72,347.13 188.23,345.71 189.16,344.52 188.58,343.09 189.63,341.92 188.98,340.43 190.05,339.32 189.73,337.82 191.02,336.78 190.30,335.16 190.84,334.07 191.66,335.26 191.24,336.70 192.51,337.81 191.79,339.31 192.67,340.50 192.52,341.88 192.61,342.84 194.12,342.62 194.03,341.12 194.88,340.56 195.69,341.77 195.01,343.22 195.96,344.41 195.40,345.84 196.47,347.01 195.88,348.44 197.04,349.60 196.25,351.07 197.15,352.26 197.50,353.68 197.02,352.19 198.37,351.12 197.84,349.62 198.72,348.45 198.14,346.94 199.23,345.80 198.90,344.40 199.76,343.20 199.26,341.77 200.43,340.63 199.89,339.18 200.82,338.00 200.15,336.54 201.34,335.41 200.69,333.92 201.90,332.81 201.28,331.32 202.23,330.16 201.85,328.72 202.89,327.57 202.28,326.09 203.22,324.92 202.92,323.50 203.91,322.34 203.28,320.86 204.43,319.73 203.88,318.26 204.87,317.10 204.49,315.66 205.54,314.55 205.12,313.04 206.13,311.91 205.51,310.34 206.92,309.32 206.48,307.81 207.41,307.09 207.79,305.71 209.07,304.68 208.34,303.21 209.71,302.20 209.06,300.74 210.28,299.70 209.23,297.75 211.36,297.62 211.12,295.70 212.78,295.10 212.48,293.60 214.03,292.73 213.45,291.15 214.55,290.06 214.15,288.71 214.80,287.54 214.38,286.18 215.27,285.04 215.01,283.72 215.65,282.54 215.22,281.18 216.29,280.12 215.94,278.61 216.81,277.41 216.22,275.84 217.48,274.74 216.98,273.15 218.35,272.38 217.65,270.89 218.25,270.08 219.43,271.24 218.80,272.75 219.74,273.95 219.47,275.39 220.15,276.66 219.74,277.99 220.31,279.25 220.08,280.57 220.67,281.83 220.19,283.16 220.80,284.43 220.36,285.75 220.84,287.02 220.48,288.35 221.08,289.61 220.53,290.94 221.18,292.21 220.64,293.54 221.38,294.80 220.89,296.12 221.47,297.39 221.01,298.72 221.14,299.98 221.85,298.74 221.26,297.37 222.11,296.15 221.64,294.79 222.29,293.55 221.82,292.19 222.60,290.96 222.19,289.61 222.74,288.35 222.32,287.06 222.86,285.84 222.50,284.56 223.23,283.36 222.73,282.06 223.40,280.85 222.88,279.56 223.48,278.35 223.14,277.06 223.88,275.86 223.34,274.56 223.93,273.35 223.61,272.04 224.08,270.78 223.79,269.47 224.47,268.24 223.84,266.90 224.66,265.67 223.98,264.33 224.80,263.10 224.20,261.76 224.98,260.54 224.54,259.21 225.30,257.98 224.50,256.59 225.72,255.51 225.07,254.11 226.08,253.00 225.51,251.62 226.57,250.51 225.75,249.09 226.75,247.97 225.86,246.27 227.62,245.75 227.43,244.27 227.81,243.46 229.01,244.58 228.56,246.11 229.81,247.21 229.43,248.73 229.29,249.65 231.00,249.11 230.58,247.51 232.08,246.81 231.49,245.22 233.10,244.37 232.53,242.79 233.55,242.12 234.54,240.60 236.08,239.98 235.77,238.44 237.08,237.77 236.73,235.74 238.76,235.07 238.02,233.66 239.27,232.59 238.47,231.17 239.48,230.05 239.13,228.71 239.88,227.55 239.45,226.19 240.36,225.06 239.86,223.55 240.75,222.27 240.19,220.76 241.17,219.49 240.77,218.00 240.46,217.37 242.82,216.84 242.36,218.39 243.21,219.52 242.67,220.93 243.62,222.04 243.44,223.37 244.25,224.66 243.75,226.17 244.57,227.46 244.36,228.92 245.03,230.24 244.28,232.39 246.39,231.94 247.18,233.41 246.44,231.87 247.63,230.64 247.14,229.13 247.80,227.82 247.59,226.36 248.34,225.06 247.91,223.70 248.65,222.54 248.28,221.18 249.11,220.04 248.81,218.70 249.60,218.05 251.56,216.52 250.93,218.03 252.00,219.08 251.75,220.49 252.61,221.64 252.12,222.95 252.93,224.14 252.29,225.46 253.22,226.63 252.73,227.94 253.27,229.15 252.83,230.46 253.77,231.60 253.18,233.05 254.18,234.27 253.57,235.72 254.40,236.96 254.54,238.35 254.31,237.02 254.98,235.78 254.35,234.39 255.36,233.20 254.77,231.82 255.58,230.60 254.93,229.21 255.93,228.01 255.19,225.92 256.69,225.88 257.53,227.09 257.15,228.48 257.81,229.73 257.36,231.13 258.45,232.31 257.79,233.74 258.61,234.97 258.21,236.33 258.93,237.56 258.37,238.94 259.22,240.15 258.63,241.53 259.43,242.76 259.12,244.11 259.84,245.34 260.15,246.86 259.41,245.28 261.24,244.72 260.38,243.17 261.82,242.21 261.43,240.77 262.47,239.70 261.96,238.27 262.90,237.00 262.50,235.51 263.42,234.23 262.73,232.70 263.66,231.42 263.29,229.95 264.12,228.79 263.67,227.46 264.62,226.31 263.86,224.94 264.87,223.80 264.44,222.47 265.29,221.31 264.60,219.80 266.06,219.14 265.36,217.40 266.97,217.26 268.65,215.76 268.01,217.13 269.45,218.03 268.80,219.41 269.77,220.42 269.41,221.70 270.05,222.89 269.75,224.20 270.65,225.36 270.14,226.70 270.74,227.89 270.43,229.20 271.03,230.39 270.66,231.71 271.57,232.87 270.90,234.23 271.87,235.37 271.24,236.73 272.00,237.90 271.74,239.20 272.64,240.36 272.12,241.70 272.83,243.01 272.43,244.50 273.27,245.79 272.86,247.28 273.65,248.58 273.20,250.38 275.25,250.11 274.82,251.68 275.48,252.97 275.01,254.35 275.70,255.64 275.08,257.03 275.81,258.31 275.42,259.68 275.86,260.99 275.46,262.36 276.09,263.65 275.82,265.01 276.42,266.26 275.80,267.59 276.38,268.84 275.93,270.15 276.65,271.40 276.23,272.71 276.70,273.97 276.38,275.27 277.07,276.52 276.56,277.84 277.01,279.10 276.75,280.40 277.18,281.66 276.86,282.97 277.60,284.20 277.14,285.53 277.61,286.78 277.11,288.11 278.03,289.33 277.31,290.67 278.03,291.91 277.68,293.22 278.42,294.45 277.85,295.79 278.56,297.02 278.03,298.38 278.75,299.54 278.46,300.89 279.46,302.00 278.76,303.41 279.84,304.51 279.44,305.84 279.96,307.09 279.54,308.38 280.05,309.64 279.54,310.93 280.06,312.18 279.68,313.47 280.32,314.72 279.71,316.02 280.24,317.27 279.78,318.56 280.48,319.81 280.05,321.10 280.43,322.36 280.13,323.65 280.48,324.91 280.04,326.20 280.65,327.45 280.15,328.74 280.72,329.97 280.50,331.26 281.26,332.42 280.57,333.76 281.61,334.89 280.91,336.23 281.77,337.38 281.20,338.71 281.95,339.87 281.60,341.16 282.32,342.34 281.96,343.62 282.61,344.81 282.16,346.10 282.83,347.28 282.39,348.58 283.03,349.76 282.65,351.05 283.33,352.24 282.72,353.55 283.59,354.76 282.93,356.08 283.74,357.29 283.26,358.60 283.95,359.82 283.44,361.13 283.91,362.36 283.55,363.66 284.24,364.88 283.79,366.18 284.33,367.44 283.92,368.75 284.51,370.01 283.98,371.32 284.51,372.58 284.07,373.89 284.71,375.15 284.07,376.46 284.73,377.72 284.31,379.03 284.86,380.29 284.50,381.59 284.93,382.86 284.43,384.17 285.11,385.43 284.72,386.73 285.24,388.00 284.75,389.30 285.37,390.56 284.86,391.87 285.30,393.14 284.92,394.44 285.56,395.70 285.06,397.01 285.67,398.27 285.75,399.61 285.27,398.15 285.91,396.81 285.51,395.36 286.22,394.03 285.85,392.59 286.49,391.41 285.89,390.15 286.64,388.98 286.26,387.73 286.72,386.54 286.37,385.29 286.99,384.11 286.61,382.86 287.00,381.63 286.71,380.35 287.19,379.13 286.92,377.85 287.40,376.62 286.84,375.34 287.53,374.12 287.03,372.84 287.75,371.62 287.12,370.32 287.96,369.14 287.41,367.86 288.08,366.66 287.67,365.39 288.32,364.19 287.79,362.91 288.39,361.71 287.84,360.43 288.58,359.26 288.28,357.79 289.18,356.50 288.56,354.99 288.97,353.67 289.45,355.03 289.17,356.46 289.72,357.81 289.31,359.26 290.05,360.59 290.23,362.03 289.87,360.57 290.64,359.25 290.19,357.79 291.01,356.47 290.48,355.01 291.24,353.68 290.91,352.24 291.67,350.91 291.02,349.44 291.69,348.11 292.01,346.63 291.45,348.19 292.78,349.37 292.66,350.89 292.47,349.46 293.06,348.12 292.63,346.67 293.45,345.34 292.79,343.87 293.71,342.64 293.31,341.00 293.66,339.89 295.21,340.94 295.24,342.56 294.89,341.08 295.62,339.77 295.23,338.29 296.04,337.00 295.56,335.46 296.78,334.25 296.25,332.70 297.17,331.44 297.01,329.98 297.61,328.69 297.07,327.30 297.85,326.03 297.45,324.65 298.20,323.37 297.62,321.99 298.20,320.70 297.83,319.38 298.26,318.08 297.78,316.76 298.33,315.47 297.97,314.14 298.55,312.86 298.12,311.53 298.69,310.24 298.10,308.91 298.82,307.63 298.25,306.30 298.77,305.01 298.51,303.66 298.93,302.34 298.56,300.99 298.98,299.67 298.54,298.32 299.10,297.01 298.66,295.65 299.37,294.35 298.93,292.99 299.47,291.68 298.97,290.32 299.41,289.01 299.12,287.66 299.48,286.34 299.16,284.99 299.67,283.68 299.18,282.32 299.88,281.01 299.48,279.66 299.88,278.34 299.50,276.99 299.94,275.67 299.64,274.33 300.07,273.01 299.65,271.66 300.19,270.34 299.89,268.99 300.27,267.67 299.92,266.32 300.46,265.01 300.07,263.68 300.60,262.40 300.19,261.07 300.70,259.78 300.20,258.45 300.69,257.16 300.28,255.83 300.85,254.55 300.43,253.22 301.00,251.93 300.52,250.60 301.07,249.32 300.75,247.99 301.33,246.72 300.72,245.37 301.44,244.12 300.97,242.78 301.56,241.51 301.07,240.17 301.85,238.92 301.42,237.59 302.06,236.32 301.40,234.97 302.13,233.64 301.60,232.22 302.37,230.89 302.01,229.49 302.63,228.15 302.17,226.73 302.83,225.40 302.23,223.95 303.01,222.66 302.65,221.20 303.65,219.94 303.67,218.48 303.21,219.77 303.98,220.97 303.44,222.27 304.08,223.48 303.60,224.77 304.30,225.99 303.87,227.28 304.21,228.54 303.82,229.83 304.39,231.08 304.00,232.37 304.54,233.63 303.94,234.92 304.53,236.17 303.99,237.46 304.67,238.72 304.10,240.01 304.64,241.33 304.37,242.67 304.83,243.99 304.31,245.34 304.85,246.66 304.47,248.01 305.00,249.32 304.62,250.67 305.13,251.99 304.65,253.34 305.16,254.66 304.84,256.01 305.36,257.25 304.95,258.56 305.57,259.80 305.15,261.10 305.65,262.35 305.30,263.65 305.81,264.89 305.37,266.20 305.90,267.44 305.67,268.74 306.18,269.98 305.81,271.39 306.41,272.73 306.05,274.14 306.52,275.49 306.17,276.90 306.97,278.22 306.31,279.66 307.08,280.98 306.65,282.39 307.16,283.74 306.89,285.14 307.42,286.48 306.91,287.90 307.57,289.24 307.11,290.65 307.89,291.97 307.45,293.28 308.08,294.48 307.54,295.79 308.31,296.98 307.91,298.28 308.65,299.47 308.26,300.77 308.81,301.98 308.30,303.41 309.22,304.72 308.62,306.16 309.50,307.46 309.05,308.89 309.70,310.22 309.12,311.66 309.83,312.98 309.44,314.25 310.31,315.40 309.74,316.69 310.52,317.85 310.06,319.13 310.76,320.29 310.30,321.58 310.98,322.74 310.50,324.05 311.47,325.26 310.78,326.73 311.74,327.95 311.20,329.39 312.12,330.62 311.56,332.06 312.43,333.15 311.99,334.43 312.94,335.49 312.45,337.03 313.29,338.31 313.09,339.79 314.07,341.04 313.65,342.56 314.55,343.64 313.95,344.97 315.02,346.01 314.23,347.37 315.34,348.41 314.79,349.73 315.54,350.81 315.20,352.37 316.53,353.52 315.75,355.19 316.45,356.39 317.16,355.08 316.63,353.57 317.80,352.33 317.24,350.81 318.23,349.54 317.77,348.17 318.53,346.98 317.97,345.60 318.92,344.43 318.51,343.07 319.26,341.96 318.76,340.54 320.46,339.97 320.54,338.44 320.50,340.03 321.67,341.07 321.19,342.47 322.35,343.48 321.87,344.87 323.14,345.86 322.37,347.32 323.41,348.36 322.89,349.76 323.87,350.81 323.66,352.34 324.85,353.52 324.40,355.11 325.24,356.40 324.88,357.68 325.74,358.77 325.12,360.10 326.05,361.16 325.57,362.47 326.55,363.53 326.01,364.83 326.89,365.98 326.37,367.30 327.16,368.46 326.82,369.76 327.51,370.92 326.95,372.25 327.79,373.40 327.44,374.70 328.34,375.68 327.96,377.08 329.21,377.74 329.59,379.03 329.04,377.71 329.97,376.62 329.50,375.31 330.15,374.18 329.96,372.92 330.58,371.76 330.25,370.42 330.88,369.16 330.47,367.80 331.18,366.55 330.62,365.19 331.39,363.94 330.82,362.57 330.94,361.36 331.82,362.50 331.41,363.85 332.09,365.03 331.64,366.39 332.60,367.53 332.25,368.98 333.06,370.30 332.44,371.78 333.30,373.09 332.75,374.59 333.64,375.86 333.10,377.42 334.21,378.64 333.75,380.30 335.67,381.11 335.74,382.93 335.35,381.53 336.43,380.45 336.01,379.05 337.16,377.99 336.37,376.39 337.62,375.67 337.27,374.25 338.52,373.51 338.12,371.93 339.87,371.16 338.77,368.98 340.70,369.02 341.62,367.63 341.10,369.28 342.45,370.27 342.12,371.80 343.02,373.07 342.74,374.57 343.70,375.83 343.32,377.35 344.45,378.55 343.94,380.15 345.14,381.33 344.57,382.94 345.02,384.23 345.80,383.00 345.23,381.58 346.16,380.36 345.59,378.95 346.46,377.73 346.56,376.26 346.09,377.70 347.52,378.49 346.72,380.04 348.05,380.87 347.98,382.13 348.76,383.38 348.09,384.85 349.06,386.07 348.54,387.51 349.49,388.74 349.02,390.18 349.84,391.43 349.34,392.86 350.08,394.12 350.44,395.58 349.89,394.08 351.06,393.02 350.64,391.56 351.70,390.47 351.32,389.02 352.56,388.02 351.80,386.49 353.47,385.78 352.68,384.24 353.88,383.36 354.22,382.05 353.93,383.41 354.61,384.61 354.17,385.99 355.16,387.14 354.71,388.52 355.44,389.71 355.19,391.07 355.86,392.26 356.32,393.74 355.84,392.31 357.26,391.51 356.47,389.96 357.78,389.13 358.06,387.80 357.76,389.23 358.54,390.52 357.91,392.00 358.81,393.27 358.30,394.73 359.16,396.01 358.86,397.44 359.47,398.72 359.18,400.11 359.89,401.39 359.35,402.81 360.23,404.06 359.82,405.47 360.55,406.74 360.01,408.16 360.74,409.43 360.14,410.96 361.45,411.80 361.04,413.21 362.20,414.10 361.60,415.58 363.11,416.35 362.24,417.91 363.64,418.72 363.01,420.21 364.68,420.92 364.87,422.35 364.13,420.92 365.10,419.77 364.63,418.38 365.79,417.26 365.28,415.86 366.11,414.69 365.42,413.27 366.43,412.12 367.13,410.03 366.52,412.55 367.82,412.57 368.97,411.68 368.69,410.31 370.06,409.49 369.36,407.98 369.72,407.45 371.69,407.39 372.78,409.12 372.11,407.62 373.12,406.68 372.55,405.22 374.03,404.43 374.56,402.78 373.75,404.71 375.78,404.74 376.15,406.46 376.39,404.55 377.41,405.49 379.22,405.60 379.06,407.21 380.49,408.01 379.85,409.50 381.31,410.29 380.89,411.70 381.98,412.64 381.55,414.11 382.76,415.16 382.24,416.64 383.37,417.71 382.92,419.18 384.05,420.29 383.29,421.73 384.45,422.85 383.75,424.27 384.64,425.44 384.37,426.79 385.11,427.98 384.83,429.34 385.80,430.49 386.08,432.00 385.21,430.43 386.58,429.41 386.18,427.96 387.17,426.85 386.85,425.41 388.00,424.35 387.40,422.84 388.38,421.73 387.76,420.22 388.99,419.17 388.40,417.67 389.67,416.63 389.15,415.14 390.22,414.06 389.69,412.57 390.98,411.54 390.55,410.07 391.89,409.22 391.25,407.30 392.94,406.55 393.42,404.99 393.01,406.45 394.02,407.56 393.53,409.03 394.78,410.08 394.45,411.52 395.46,412.58 395.14,413.97 396.23,414.88 395.71,416.33 397.04,417.16 396.57,418.60 397.75,419.48 397.27,420.91 398.74,421.70 398.05,423.20 398.17,423.48 400.41,423.80 400.41,422.02 401.86,421.61 401.26,419.82 402.12,419.81 403.90,420.00 403.37,421.74 405.27,422.07 404.59,423.57 405.81,424.44 405.36,425.86 406.41,426.79 406.10,428.13 407.28,429.19 406.76,430.68 407.91,431.75 407.41,433.23 408.65,434.27 408.12,435.79 409.55,436.59 408.92,438.08 410.26,438.91 409.66,440.38 410.84,440.49 411.05,442.46 412.08,442.35 412.82,441.11 412.21,439.68 413.31,438.50 412.58,437.05 413.73,435.87 413.23,434.45 413.92,433.21 413.60,431.82 414.42,430.54 413.87,429.07 414.80,427.81 414.15,426.32 415.26,425.08 414.57,423.59 415.68,422.39 414.99,421.00 415.86,419.94 415.34,418.59 416.34,417.55 416.12,416.26 417.10,415.21 416.53,413.85 417.56,412.84 417.16,411.39 418.01,410.24 417.51,408.76 418.58,407.67 418.23,406.23 418.17,405.87 420.36,405.60 421.58,407.32 420.83,405.35 422.81,404.74 423.53,402.79 422.77,404.76 424.39,405.55 424.32,407.38 426.27,407.34 425.74,409.49 427.73,409.55 427.24,411.25 428.78,411.30 429.02,413.21 431.00,412.45 430.52,414.29 432.40,414.93 432.01,416.72 433.71,417.47 432.92,419.46 435.06,419.60 434.79,421.78 435.78,422.07 437.23,421.20 436.69,419.34 438.66,419.00 438.56,416.99 439.66,417.28 441.42,416.16 442.41,417.97 442.42,416.06 444.64,416.11 443.72,414.11 445.63,414.01 445.43,412.55 447.22,411.85 446.35,409.82 448.22,409.07 447.63,407.60 449.15,406.83 448.38,405.30 449.57,404.41 449.28,403.02 450.53,402.13 449.99,400.52 451.50,399.74 450.78,398.06 452.45,397.25 451.88,395.89 452.93,394.86 452.30,393.49 453.39,392.46 452.82,391.10 453.84,390.06 453.30,388.71 454.36,387.65 453.87,386.22 454.73,384.97 454.22,383.53 455.13,382.30 454.68,380.87 455.40,379.60 454.94,378.17 455.85,376.94 455.40,375.50 456.21,374.33 455.96,372.81 457.25,371.83 457.51,370.33 457.17,371.76 457.72,373.08 457.44,374.50 458.28,375.78 457.69,377.24 458.49,378.53 458.05,379.98 458.90,381.25 458.27,382.74 459.28,383.99 458.91,385.43 459.59,386.73 459.14,388.19 459.93,389.42 459.42,390.86 460.82,391.67 460.42,393.08 461.73,393.92 462.19,395.87 461.96,393.72 464.26,393.71 463.55,391.77 465.25,391.03 465.12,389.42 466.29,388.53 465.74,387.07 467.05,386.23 466.52,384.78 467.56,383.85 467.43,382.53 468.40,381.58 468.17,380.22 469.49,379.39 468.77,377.91 469.87,376.82 469.36,375.34 470.66,374.31 470.26,372.86 471.35,371.78 470.78,370.25 472.24,369.46 471.59,367.97 472.68,367.05 472.31,365.66 473.89,365.18 472.89,363.14 475.00,363.16 475.21,361.28 475.59,362.91 476.20,362.04 478.17,362.09 477.93,360.22 480.26,360.39 479.20,358.31 481.27,358.72 482.54,356.85 481.72,358.30 483.00,359.19 482.61,360.52 483.55,361.50 483.31,362.77 484.33,363.90 483.85,365.32 484.82,366.45 484.25,367.89 485.38,368.99 484.63,370.47 485.82,371.55 485.11,373.02 486.09,374.15 485.83,375.53 486.72,376.68 486.23,378.13 487.45,379.03 486.66,380.48 488.10,381.33 487.25,382.78 488.79,383.52 488.23,385.22 489.72,386.11 490.48,388.22 489.64,385.98 491.73,386.18 491.70,384.23 492.52,384.09 494.21,384.83 493.64,386.71 495.39,387.33 495.10,389.13 496.16,389.39 497.21,388.44 496.73,387.09 497.93,386.18 497.18,384.75 498.84,384.06 498.06,382.27 499.85,381.50 500.37,379.65 499.81,381.36 501.37,382.22 502.03,384.44 501.02,382.07 503.20,381.95 502.63,380.51 503.51,379.36 503.04,377.94 504.02,376.81 503.51,375.38 504.72,374.32 503.98,372.90 505.24,372.00 504.81,370.66 506.08,369.77 506.39,368.22 505.83,369.92 507.35,370.78 506.90,372.39 508.11,373.30 507.48,374.69 508.58,375.63 507.89,377.04 509.44,377.86 508.60,379.32 509.80,380.23 509.45,381.55 510.60,382.48 509.68,384.04 511.48,384.80 511.01,386.47 511.43,387.50 512.55,386.39 512.07,384.97 513.08,383.85 512.55,382.42 513.62,381.30 512.95,379.84 514.25,378.78 513.70,377.34 514.61,376.19 513.90,374.72 515.15,373.65 514.54,372.20 515.73,371.11 515.26,369.69 516.22,368.55 515.55,367.09 516.65,365.99 516.13,364.53 517.28,363.61 516.82,362.26 517.86,361.31 517.38,359.95 518.76,359.19 517.86,357.34 519.56,356.54 518.77,354.43 520.89,354.56 521.62,352.94 521.25,354.57 522.81,355.42 521.89,357.37 523.86,357.55 523.29,359.08 523.39,359.44 524.97,359.06 524.55,357.61 526.11,357.09 525.73,355.76 526.70,354.79 526.00,353.37 527.39,352.51 526.85,351.13 528.09,350.23 527.45,348.83 528.73,347.95 528.04,346.53 529.00,345.56 528.41,344.17 529.61,343.26 529.32,341.96 530.52,341.05 529.94,339.62 531.33,338.70 530.59,336.92 532.43,336.27 531.81,334.71 533.55,334.40 532.57,332.65 534.47,332.44 533.70,330.80 535.22,330.76 535.92,329.04 537.68,328.26 536.66,326.37 538.18,325.48 537.98,324.10 539.04,323.12 538.47,321.62 539.77,320.70 539.47,319.39 540.62,318.47 540.08,317.10 541.32,316.20 540.44,314.33 542.74,314.71 543.47,312.81 542.89,314.19 544.07,315.11 543.42,316.51 544.44,317.47 544.65,318.74 544.22,317.33 545.35,316.23 544.88,314.81 545.96,313.70 545.43,312.27 546.37,311.16 546.00,309.83 546.95,308.85 546.28,307.45 547.62,306.57 547.91,304.97 547.78,306.64 548.42,306.98 549.95,306.11 549.33,304.38 550.81,303.47 550.27,302.09 551.66,301.23 550.91,299.80 552.16,298.90 551.83,297.58 552.70,296.58 552.21,295.22 553.25,294.27 553.04,292.99 554.33,292.65 553.81,290.20 556.09,291.01 557.74,288.86 557.01,290.63 558.78,291.40 558.17,293.02 559.13,294.18 558.64,295.56 559.34,296.76 559.14,298.10 559.80,299.30 559.40,300.67 560.14,301.86 559.61,303.24 560.67,304.39 560.07,305.78 561.16,306.92 560.60,308.33 561.64,309.31 560.78,310.68 561.86,311.65 561.55,312.91 562.70,313.74 561.81,315.58 563.72,316.29 563.08,318.03 564.64,318.89 564.25,320.52 564.62,321.30 566.44,321.17 566.09,318.90 567.86,318.89 569.20,319.78 568.66,321.27 569.99,322.16 569.29,323.74 570.87,324.58 570.02,326.41 570.30,326.69 572.59,326.94 572.23,324.67 573.80,324.79 575.55,325.09 574.93,326.65 576.52,327.12 575.74,328.91 577.12,329.84 576.58,331.53 578.27,332.33 578.04,333.91 579.35,334.67 579.29,336.30 580.81,336.81 580.28,338.51 582.19,339.22 581.34,341.04 583.14,341.80 582.26,343.63 584.09,344.38 583.51,346.09 584.88,347.02 584.64,348.60 586.05,349.51 585.64,351.16 586.99,352.18 586.44,353.54 587.42,354.59 586.84,355.95 587.19,357.05 587.72,355.76 587.43,354.43 587.99,353.14 587.58,351.80 588.13,350.50 587.54,349.15 588.21,347.87 587.71,346.53 588.35,345.27 587.80,343.98 588.42,342.72 587.93,341.43 588.54,340.17 588.14,338.88 588.58,337.62 588.13,336.33 587.82,335.55 589.49,336.00 588.92,337.35 589.67,338.63 589.08,339.98 589.65,341.27 589.25,342.61 589.91,343.89 589.34,345.24 589.91,346.53 589.68,347.83 590.36,349.06 589.82,350.39 590.49,351.62 589.95,352.95 590.83,354.40 589.34,355.24 589.89,356.93 588.04,357.63 588.85,359.42 587.43,360.47 588.12,361.67 587.66,362.97 588.42,364.17 587.86,365.48 588.70,366.67 588.25,367.97 588.93,369.17 588.32,370.48 588.95,371.69 588.55,372.99 589.15,374.25 588.88,375.59 589.62,376.84 589.00,378.22 589.89,379.44 589.42,380.81 589.94,382.08 590.16,383.44 589.74,381.97 590.62,380.67 590.15,379.19 590.97,377.88 590.41,376.40 591.19,375.08 590.69,373.61 591.47,372.29 591.10,370.83 591.85,369.51 591.62,368.07 591.62,366.76 592.54,367.89 591.99,369.27 592.91,370.40 592.30,371.79 593.45,372.89 592.99,374.39 593.61,375.72 593.14,377.21 594.16,378.48 593.85,379.95 594.51,381.27 594.07,382.76 594.92,384.06 594.59,385.53 595.50,386.82 595.02,388.31 595.96,389.57 595.22,391.02 596.51,392.07 595.84,393.51 596.95,394.59 596.46,395.99 597.46,397.09 596.83,398.52 597.94,399.60 597.39,401.01 598.60,402.02 598.11,403.68 599.42,404.80 599.91,407.36 599.88,405.46 601.39,405.56 600.65,403.82 602.41,403.42 601.86,401.78 603.80,401.48 603.39,399.92 603.71,399.76 605.71,400.08 605.27,401.46 606.11,402.68 605.56,404.07 606.60,405.27 606.12,406.65 606.76,407.90 606.42,409.26 607.18,410.49 606.75,411.87 607.29,413.13 607.06,414.48 607.84,415.71 607.33,417.09 607.99,418.34 607.58,419.71 608.40,420.93 607.94,422.42 608.95,423.69 608.38,425.20 609.22,426.50 608.63,428.01 609.59,429.27 609.29,430.63 610.31,431.73 609.73,433.15 610.83,434.23 609.95,435.77 611.37,436.86 611.00,438.49 612.17,439.54 611.61,441.29 613.46,441.20 613.52,442.96 615.12,442.69 614.85,444.17 616.63,444.56 616.09,446.12 617.30,447.27 616.71,448.97 617.97,450.16 617.48,451.45 618.21,452.60 617.85,453.88 618.61,455.03 617.91,456.34 618.04,457.40 619.11,456.28 618.52,454.76 619.71,453.67 619.41,452.19 620.67,451.05 619.96,449.32 620.58,448.19 621.48,449.32 620.93,450.73 622.00,451.82 621.66,453.19 621.56,454.18 623.25,453.16 622.50,451.42 623.72,450.25 623.22,448.85 624.34,447.77 624.04,446.40 624.98,445.29 623.85,443.23 625.93,443.18 627.01,441.37 626.37,443.60 628.47,443.82 628.12,445.44 629.51,446.54 629.02,448.16 630.06,449.43 629.30,450.96 630.43,452.22 629.76,453.74 630.62,455.03 630.14,456.55 631.25,457.63 630.71,459.04 631.75,460.14 631.28,461.54 631.63,462.71 632.40,461.38 631.86,459.92 632.45,458.57 631.96,457.12 632.84,455.80 632.35,454.35 633.02,453.09 632.70,451.76 633.22,450.48 632.73,449.13 633.42,447.87 632.91,446.52 633.63,445.26 634.04,443.83 633.52,445.38 634.44,446.65 634.53,448.12 634.27,446.79 634.84,445.53 634.42,444.18 635.05,442.92 634.67,441.58 635.20,440.31 634.85,438.97 635.54,437.70 635.10,436.34 635.57,435.04 635.06,433.67 635.76,432.38 635.36,431.02 636.02,429.73 635.55,428.37 635.96,427.06 635.73,425.71 636.19,424.40 635.64,423.03 636.34,421.77 636.01,420.43 636.69,419.18 636.27,417.83 636.69,416.55 636.32,415.21 636.91,413.95 636.26,412.34 637.75,411.77 638.29,410.47 637.63,411.87 638.66,412.99 638.25,414.34 639.13,415.48 639.28,416.83 638.88,415.53 639.36,414.31 639.00,413.02 639.64,411.82 639.24,410.52 639.89,409.31 639.45,408.02 640.16,406.82 639.63,405.51 640.22,404.31 639.96,402.86 640.54,401.52 640.27,400.08 641.12,398.77 640.56,397.28 641.29,395.95 640.73,394.65 641.60,393.45 640.82,392.07 641.84,390.99 641.48,389.62 642.43,388.52 642.00,387.15 642.87,386.03 642.51,384.67 643.31,383.52 642.81,382.10 643.87,380.94 643.35,379.51 644.26,378.32 643.73,376.89 644.77,375.72 644.37,374.31 645.16,373.07 644.62,371.71 645.24,370.45 644.70,369.09 645.57,367.85 645.08,366.50 645.59,365.23 645.28,363.89 645.92,362.63 645.51,361.28 646.04,360.01 645.67,358.67 646.30,357.41 645.84,356.06 646.59,354.80 646.19,353.46 646.89,352.20 646.36,350.84 646.91,349.58 646.62,348.24 647.12,346.97 646.80,345.63 647.57,344.38 646.88,343.01 647.71,341.77 647.31,340.42 647.82,339.15 647.51,337.81 648.07,336.54 647.61,335.19 648.19,333.92 647.87,332.58 648.54,331.33 648.04,330.00 648.90,328.81 648.37,327.48 649.09,326.27 648.66,324.95 649.30,323.74 648.81,322.41 649.44,321.20 649.10,319.89 649.82,318.68 649.43,317.36 650.04,316.11 649.54,314.73 650.38,313.51 650.04,312.15 650.66,310.90 650.25,309.53 651.00,308.30 650.60,306.93 651.31,305.60 650.98,304.15 651.71,302.82 651.21,301.35 652.08,300.16 652.13,298.59 652.67,297.35 652.16,296.05 652.95,294.83 652.49,293.54 653.02,292.30 652.57,291.01 653.00,289.76 652.57,288.47 653.32,287.24 652.72,285.95 653.35,284.71 652.80,283.43 653.39,282.18 652.92,280.90 653.47,279.65 652.94,278.38 653.56,277.12 653.11,275.85 653.48,274.59 653.11,273.32 653.62,272.07 653.19,270.79 653.79,269.56 653.19,268.27 653.86,267.04 653.37,265.76 653.98,264.53 653.57,263.25 654.24,262.06 653.78,260.57 654.67,259.27 654.02,257.75 654.86,256.44 654.49,254.91 655.65,253.80 655.11,252.22 655.59,251.02 656.15,252.36 655.72,253.77 656.41,255.11 656.00,256.52 656.66,257.85 656.13,259.27 656.76,260.61 656.80,262.01 656.42,260.69 656.88,259.41 656.62,258.09 657.21,256.82 656.79,255.49 657.17,254.21 656.75,252.88 657.38,251.61 656.97,250.29 657.95,249.59 658.53,247.98 658.06,249.27 658.71,250.48 658.32,251.76 658.91,252.97 658.42,254.27 659.03,255.48 658.59,256.77 658.53,257.96 659.30,256.69 658.84,255.30 659.55,254.02 659.04,252.63 659.94,251.37 660.07,249.85 659.45,251.26 660.90,251.97 660.39,253.27 660.90,254.48 660.41,255.78 661.30,256.97 660.82,258.26 661.45,259.47 660.81,260.78 661.54,261.97 661.04,263.25 661.83,264.37 661.32,265.65 662.18,266.76 662.27,268.02 661.92,266.65 662.51,265.36 661.97,263.98 662.62,262.68 662.35,261.32 662.60,260.00" fill="none" stroke="#000" stroke-width="4.4" stroke-linejoin="round" stroke-linecap="butt"/>
</g>
<line x1="49.25" y1="384.40" x2="669.0" y2="384.40" stroke="#000" stroke-width="2.5" stroke-dasharray="7.6 6.9"/>
<rect x="49.25" y="121.75" width="619.75" height="375.25" fill="none" stroke="#222" stroke-width="1.4"/>
<g stroke="#000" stroke-width="1.2"><line x1="77.75" y1="497.0" x2="77.75" y2="504.0"/><line x1="128.34" y1="497.0" x2="128.34" y2="504.0"/><line x1="178.93" y1="497.0" x2="178.93" y2="504.0"/><line x1="229.52" y1="497.0" x2="229.52" y2="504.0"/><line x1="280.11" y1="497.0" x2="280.11" y2="504.0"/><line x1="330.70" y1="497.0" x2="330.70" y2="504.0"/><line x1="381.29" y1="497.0" x2="381.29" y2="504.0"/><line x1="431.88" y1="497.0" x2="431.88" y2="504.0"/><line x1="482.47" y1="497.0" x2="482.47" y2="504.0"/><line x1="533.06" y1="497.0" x2="533.06" y2="504.0"/><line x1="583.65" y1="497.0" x2="583.65" y2="504.0"/><line x1="634.24" y1="497.0" x2="634.24" y2="504.0"/><line x1="42.95" y1="484.92" x2="49.25" y2="484.92"/><line x1="42.95" y1="434.66" x2="49.25" y2="434.66"/><line x1="42.95" y1="384.40" x2="49.25" y2="384.40"/><line x1="42.95" y1="334.14" x2="49.25" y2="334.14"/><line x1="42.95" y1="283.88" x2="49.25" y2="283.88"/><line x1="42.95" y1="233.62" x2="49.25" y2="233.62"/><line x1="42.95" y1="183.36" x2="49.25" y2="183.36"/><line x1="42.95" y1="133.10" x2="49.25" y2="133.10"/></g>
<g font-size="17.5" fill="#111"><text x="77.75" y="524.3" text-anchor="middle" textLength="36" lengthAdjust="spacingAndGlyphs">2000</text><text x="128.34" y="524.3" text-anchor="middle" textLength="36" lengthAdjust="spacingAndGlyphs">2002</text><text x="178.93" y="524.3" text-anchor="middle" textLength="36" lengthAdjust="spacingAndGlyphs">2004</text><text x="229.52" y="524.3" text-anchor="middle" textLength="36" lengthAdjust="spacingAndGlyphs">2006</text><text x="280.11" y="524.3" text-anchor="middle" textLength="36" lengthAdjust="spacingAndGlyphs">2008</text><text x="330.70" y="524.3" text-anchor="middle" textLength="36" lengthAdjust="spacingAndGlyphs">2010</text><text x="381.29" y="524.3" text-anchor="middle" textLength="36" lengthAdjust="spacingAndGlyphs">2012</text><text x="431.88" y="524.3" text-anchor="middle" textLength="36" lengthAdjust="spacingAndGlyphs">2014</text><text x="482.47" y="524.3" text-anchor="middle" textLength="36" lengthAdjust="spacingAndGlyphs">2016</text><text x="533.06" y="524.3" text-anchor="middle" textLength="36" lengthAdjust="spacingAndGlyphs">2018</text><text x="583.65" y="524.3" text-anchor="middle" textLength="36" lengthAdjust="spacingAndGlyphs">2020</text><text x="634.24" y="524.3" text-anchor="middle" textLength="36" lengthAdjust="spacingAndGlyphs">2022</text><text x="36.5" y="490.92" text-anchor="end" textLength="14" lengthAdjust="spacingAndGlyphs">-2</text><text x="36.5" y="440.66" text-anchor="end" textLength="14" lengthAdjust="spacingAndGlyphs">-1</text><text x="36.5" y="390.40" text-anchor="end" textLength="8.5" lengthAdjust="spacingAndGlyphs">0</text><text x="36.5" y="340.14" text-anchor="end" textLength="8.5" lengthAdjust="spacingAndGlyphs">1</text><text x="36.5" y="289.88" text-anchor="end" textLength="8.5" lengthAdjust="spacingAndGlyphs">2</text><text x="36.5" y="239.62" text-anchor="end" textLength="8.5" lengthAdjust="spacingAndGlyphs">3</text><text x="36.5" y="189.36" text-anchor="end" textLength="8.5" lengthAdjust="spacingAndGlyphs">4</text><text x="36.5" y="139.10" text-anchor="end" textLength="8.5" lengthAdjust="spacingAndGlyphs">5</text></g>
<text transform="translate(14,309.7) rotate(-90)" text-anchor="middle" font-size="17.5" fill="#111" textLength="14.5" lengthAdjust="spacingAndGlyphs">%</text>
<text x="193.0" y="42.6" font-size="22" font-weight="bold" fill="#000" stroke="#000" stroke-width="0.35" textLength="131.9" lengthAdjust="spacingAndGlyphs">Risk-adjusted</text>
<text x="333.2" y="42.6" font-size="22" font-weight="bold" fill="#000" stroke="#000" stroke-width="0.35" textLength="36.1" lengthAdjust="spacingAndGlyphs">real</text>
<text x="377.4" y="42.6" font-size="22" font-weight="bold" fill="#000" stroke="#000" stroke-width="0.35" textLength="57.0" lengthAdjust="spacingAndGlyphs">yields</text>
<text x="441.6" y="42.6" font-size="22" font-weight="bold" fill="#000" stroke="#000" stroke-width="0.35" textLength="22.9" lengthAdjust="spacingAndGlyphs">on</text>
<text x="471.6" y="42.6" font-size="22" font-weight="bold" fill="#000" stroke="#000" stroke-width="0.35" textLength="60.2" lengthAdjust="spacingAndGlyphs">assets</text>
<text x="66.7" y="80" font-size="17.5" fill="#111" stroke="#111" stroke-width="0.25" textLength="40.0" lengthAdjust="spacingAndGlyphs">7-10y</text>
<text x="112.3" y="80" font-size="17.5" fill="#111" stroke="#111" stroke-width="0.25" textLength="36.7" lengthAdjust="spacingAndGlyphs">bond</text>
<text x="154.3" y="80" font-size="17.5" fill="#111" stroke="#111" stroke-width="0.25" textLength="42.4" lengthAdjust="spacingAndGlyphs">yields</text>
<text x="201.7" y="80" font-size="17.5" fill="#111" stroke="#111" stroke-width="0.25" textLength="58.3" lengthAdjust="spacingAndGlyphs">deflated</text>
<text x="265" y="80" font-size="17.5" fill="#111" stroke="#111" stroke-width="0.25" textLength="15.7" lengthAdjust="spacingAndGlyphs">by</text>
<text x="286.7" y="80" font-size="17.5" fill="#111" stroke="#111" stroke-width="0.25" textLength="60.6" lengthAdjust="spacingAndGlyphs">inflation</text>
<text x="353.3" y="80" font-size="17.5" fill="#111" stroke="#111" stroke-width="0.25" textLength="90.7" lengthAdjust="spacingAndGlyphs">expectations</text>
<rect x="457.7" y="65.5" width="1.5" height="19" fill="#222"/>
<text x="469" y="80" font-size="17.5" fill="#111" stroke="#111" stroke-width="0.25" textLength="31.0" lengthAdjust="spacingAndGlyphs">Grey</text>
<text x="506.7" y="80" font-size="17.5" fill="#111" stroke="#111" stroke-width="0.25" textLength="28.3" lengthAdjust="spacingAndGlyphs">bars</text>
<text x="542.3" y="80" font-size="17.5" fill="#111" stroke="#111" stroke-width="0.25" textLength="10.0" lengthAdjust="spacingAndGlyphs">=</text>
<text x="559" y="80" font-size="17.5" fill="#111" stroke="#111" stroke-width="0.25" textLength="17.7" lengthAdjust="spacingAndGlyphs">US</text>
<text x="583.3" y="80" font-size="17.5" fill="#111" stroke="#111" stroke-width="0.25" textLength="74.0" lengthAdjust="spacingAndGlyphs">recessions</text>
<text x="31.7" y="103" font-size="17.5" fill="#111" stroke="#111" stroke-width="0.25" textLength="26.6" lengthAdjust="spacingAndGlyphs">Risk</text>
<text x="64" y="103" font-size="17.5" fill="#111" stroke="#111" stroke-width="0.25" textLength="38.3" lengthAdjust="spacingAndGlyphs">asset</text>
<text x="107.3" y="103" font-size="17.5" fill="#111" stroke="#111" stroke-width="0.25" textLength="42.0" lengthAdjust="spacingAndGlyphs">yields</text>
<text x="155" y="103" font-size="17.5" fill="#111" stroke="#111" stroke-width="0.25" textLength="21.7" lengthAdjust="spacingAndGlyphs">(all</text>
<text x="182.3" y="103" font-size="17.5" fill="#111" stroke="#111" stroke-width="0.25" textLength="22.7" lengthAdjust="spacingAndGlyphs">but</text>
<text x="210.7" y="103" font-size="17.5" fill="#111" stroke="#111" stroke-width="0.25" textLength="31.3" lengthAdjust="spacingAndGlyphs">UST)</text>
<text x="249" y="103" font-size="17.5" fill="#111" stroke="#111" stroke-width="0.25" textLength="62.7" lengthAdjust="spacingAndGlyphs">adjusted</text>
<text x="317.3" y="103" font-size="17.5" fill="#111" stroke="#111" stroke-width="0.25" textLength="37.7" lengthAdjust="spacingAndGlyphs">down</text>
<text x="360.7" y="103" font-size="17.5" fill="#111" stroke="#111" stroke-width="0.25" textLength="16.0" lengthAdjust="spacingAndGlyphs">by</text>
<text x="383.3" y="103" font-size="17.5" fill="#111" stroke="#111" stroke-width="0.25" textLength="63.4" lengthAdjust="spacingAndGlyphs">&quot;normal&quot;</text>
<text x="453.5" y="103" font-size="17.5" fill="#111" stroke="#111" stroke-width="0.25" textLength="27.5" lengthAdjust="spacingAndGlyphs">(20y</text>
<text x="486.7" y="103" font-size="17.5" fill="#111" stroke="#111" stroke-width="0.25" textLength="63.3" lengthAdjust="spacingAndGlyphs">median)</text>
<text x="556.7" y="103" font-size="17.5" fill="#111" stroke="#111" stroke-width="0.25" textLength="61.6" lengthAdjust="spacingAndGlyphs">premium</text>
<text x="625" y="103" font-size="17.5" fill="#111" stroke="#111" stroke-width="0.25" textLength="31.7" lengthAdjust="spacingAndGlyphs">over</text>
<text x="663.3" y="103" font-size="17.5" fill="#111" stroke="#111" stroke-width="0.25" textLength="29.0" lengthAdjust="spacingAndGlyphs">UST</text>
<g font-size="16.5" font-style="italic" stroke-width="0.7" text-anchor="end"><text x="662.75" y="161.6" fill="#000" stroke="#000" textLength="155.5" lengthAdjust="spacingAndGlyphs">ST US Treasuries (1-3y)</text><text x="662.75" y="197.1" fill="#c1102f" stroke="#c1102f" textLength="145.5" lengthAdjust="spacingAndGlyphs">US Treasuries (7-10y)</text><text x="662.75" y="231.9" fill="#6c9bd2" stroke="#6c9bd2" textLength="168" lengthAdjust="spacingAndGlyphs">US equities (NIPA based)</text></g>
<g font-size="16.5"><text x="681.7" y="265.6" fill="#000" textLength="31" lengthAdjust="spacingAndGlyphs">2.48</text><text x="681.7" y="340" fill="#c1102f" textLength="45.6" lengthAdjust="spacingAndGlyphs">1.01%</text><text x="681.7" y="372" fill="#6c9bd2" textLength="45.6" lengthAdjust="spacingAndGlyphs">0.36%</text></g>
<text x="49.5" y="562" font-size="23" fill="#333" textLength="90.5" lengthAdjust="spacingAndGlyphs">(Chart 4)</text>
<text x="405.3" y="556.2" font-size="17.5" font-weight="bold" fill="#111" textLength="23.9" lengthAdjust="spacingAndGlyphs">ICE</text>
<text x="433.6" y="556.2" font-size="17.5" font-weight="bold" fill="#111" textLength="62.2" lengthAdjust="spacingAndGlyphs">BofAML,</text>
<text x="500.2" y="556.2" font-size="17.5" font-weight="bold" fill="#111" textLength="57.4" lengthAdjust="spacingAndGlyphs">Gavekal</text>
<text x="562.0" y="556.2" font-size="17.5" font-weight="bold" fill="#111" textLength="161.4" lengthAdjust="spacingAndGlyphs">Research/Macrobond</text>
</svg></body></html>
